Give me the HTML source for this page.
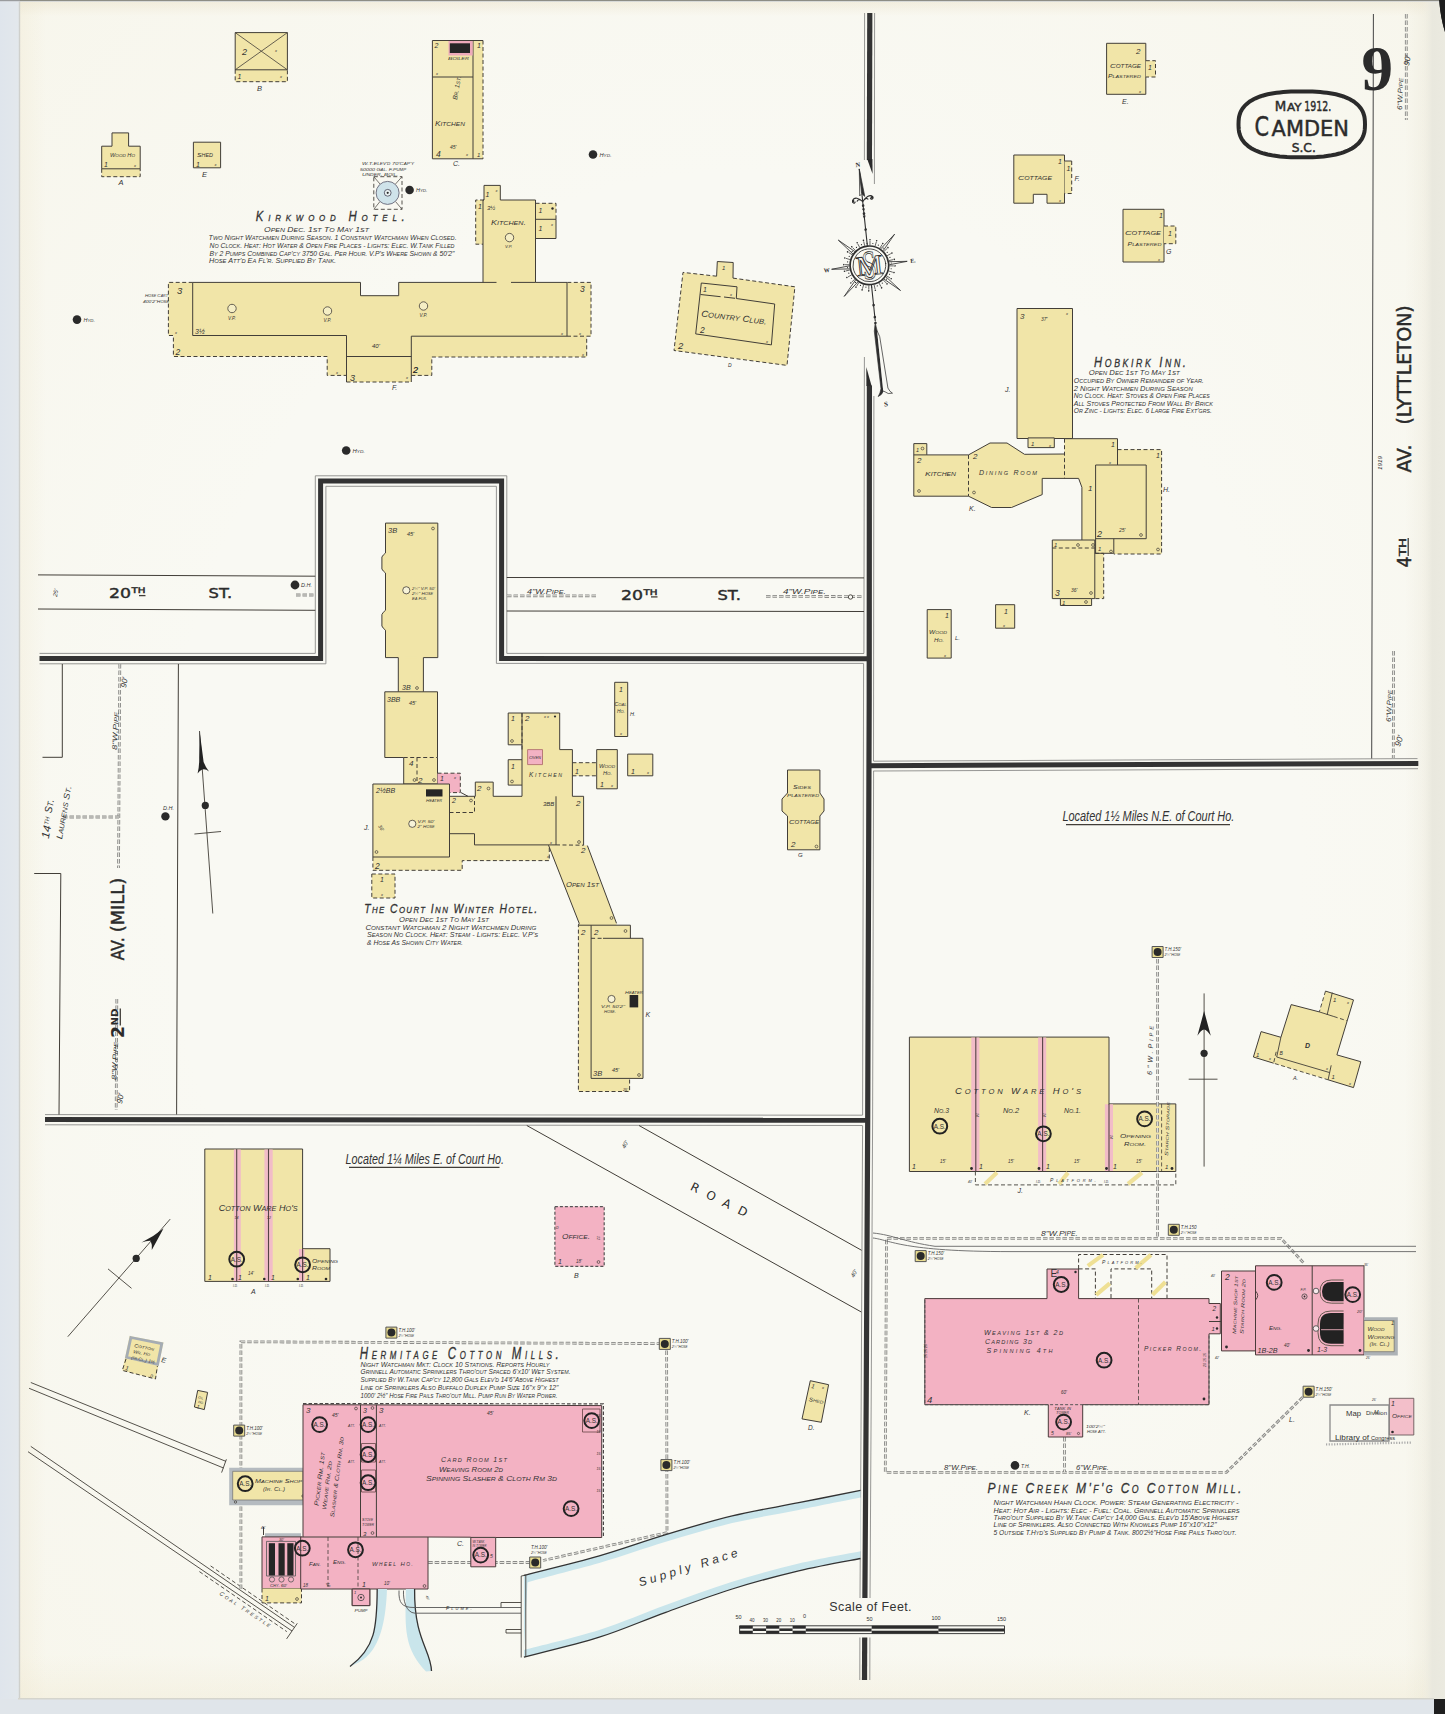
<!DOCTYPE html>
<html lang="en"><head><meta charset="utf-8"><title>Sanborn Fire Insurance Map - Camden, S.C. - May 1912 - Sheet 9</title>
<style>
html,body{margin:0;padding:0;background:#dde3e8;}
body{width:1445px;height:1714px;overflow:hidden;}
svg{display:block;}
text{font-family:"Liberation Sans",sans-serif;fill:#333;}
.h{font-style:italic;}
.p{font-style:normal;}
.w{font-family:"DejaVu Sans","Liberation Sans",sans-serif;fill:#2b2b2b;}
.wk{font-family:"DejaVu Sans","Liberation Sans",sans-serif;fill:#2b2b2b;stroke:#2b2b2b;stroke-width:0.45px;}
.wb{font-family:"DejaVu Sans","Liberation Sans",sans-serif;font-weight:bold;fill:#2b2b2b;}
.sb{font-family:"Liberation Serif",serif;font-weight:bold;fill:#2b2b2b;}
.sr{font-family:"Liberation Serif",serif;fill:none;stroke:#2e2e2e;stroke-width:0.8;}
.srb{font-family:"Liberation Serif",serif;font-weight:bold;fill:#2e2e2e;}
.n{font-family:"Liberation Sans Narrow","Liberation Sans",sans-serif;font-style:italic;}
</style></head><body>
<svg width="1445" height="1714" viewBox="0 0 1445 1714">
<rect x="0" y="0" width="1445" height="1714" fill="#dde3e8"/>
<defs><linearGradient id="lg" x1="0" x2="1" y1="0" y2="0"><stop offset="0" stop-color="#dfe5ec"/><stop offset="1" stop-color="#e3e8ec"/></linearGradient><linearGradient id="rg" x1="0" x2="1" y1="0" y2="0"><stop offset="0" stop-color="#f1f0e6" stop-opacity="0"/><stop offset="0.45" stop-color="#e9e8de"/><stop offset="1" stop-color="#ebeae0"/></linearGradient></defs>
<rect x="18" y="1.5" width="1427" height="1697.5" fill="#f9f9f3"/>
<defs><linearGradient id="tl" x1="0" x2="1" y1="0" y2="0"><stop offset="0" stop-color="#efe6cc" stop-opacity="0.3"/><stop offset="1" stop-color="#efe6cc" stop-opacity="0"/></linearGradient><linearGradient id="tt" x1="0" x2="0" y1="0" y2="1"><stop offset="0" stop-color="#ebe3cc" stop-opacity="0.5"/><stop offset="1" stop-color="#ebe3cc" stop-opacity="0"/></linearGradient><linearGradient id="tb" x1="0" x2="0" y1="1" y2="0"><stop offset="0" stop-color="#efe8d0" stop-opacity="0.35"/><stop offset="1" stop-color="#efe8d0" stop-opacity="0"/></linearGradient><linearGradient id="tr" x1="1" x2="0" y1="0" y2="0"><stop offset="0" stop-color="#e6e2d2" stop-opacity="0.6"/><stop offset="1" stop-color="#e6e2d2" stop-opacity="0"/></linearGradient></defs>
<rect x="20" y="2" width="26" height="1697" fill="url(#tl)"/>
<rect x="20" y="2" width="1425" height="14" fill="url(#tt)"/>
<rect x="20" y="1655" width="1425" height="44" fill="url(#tb)"/>
<rect x="1405" y="2" width="40" height="1697" fill="url(#tr)"/>
<defs><radialGradient id="vg" cx="0.5" cy="0.5" r="0.72"><stop offset="0.55" stop-color="#eee6c8" stop-opacity="0"/><stop offset="1" stop-color="#eee6c8" stop-opacity="0.16"/></radialGradient></defs>
<rect x="20" y="1.5" width="1425" height="1697.5" fill="url(#vg)"/>
<rect x="0" y="0" width="19.6" height="1714" fill="url(#lg)"/>
<rect x="18.8" y="1.5" width="1.4" height="1698" fill="#cfd0cc"/>
<rect x="1422" y="2" width="23" height="1697" fill="url(#rg)"/>
<rect x="0" y="1699" width="1445" height="15" fill="#e0e5ea"/>
<rect x="18" y="1698" width="1416" height="1.5" fill="#d5d5cd"/>
<rect x="0" y="0" width="20" height="1.2" fill="#9a9c9e"/>
<rect x="20" y="0" width="1425" height="1.2" fill="#8d8d85"/>
<path d="M1439.2,0 Q1440.5,18 1445,32 L1445,0 Z" fill="#1c1c1c"/>
<path d="M1439.2,0 Q1440.5,18 1445,32 L1445,0 Z" fill="#1c1c1c"/>
<rect x="1434" y="1699" width="11" height="15" fill="#1f1f1f"/>
<polyline points="869.8,13.0 869.4,160.0" fill="none" stroke="#333333" stroke-width="5.2" />
<polyline points="869.4,385.5 869.2,700.0 867.7,1120.0 866.2,1400.0 864.9,1598.0" fill="none" stroke="#333333" stroke-width="5.2" />
<polyline points="864.7,1637.5 864.5,1680.0" fill="none" stroke="#333333" stroke-width="5.2" />
<polyline points="868.5,765.7 1418.3,763.4" fill="none" stroke="#333333" stroke-width="5" />
<polyline points="39.5,658.5 320.6,658.5 320.6,481.1 501.6,481.1 501.6,658.6 868.8,658.7" fill="none" stroke="#333333" stroke-width="5" />
<polyline points="45.0,1119.6 867.7,1120.3" fill="none" stroke="#333333" stroke-width="5" />
<polyline points="864.6,13.0 864.4,160.0" fill="none" stroke="#8a8a88" stroke-width="0.9" />
<polyline points="864.4,357.0 863.9,653.4" fill="none" stroke="#8a8a88" stroke-width="0.9" />
<polyline points="873.9,396.0 873.5,761.0" fill="none" stroke="#8a8a88" stroke-width="0.9" />
<polyline points="873.6,771.0 872.6,1120.0 871.2,1400.0 870.0,1598.0" fill="none" stroke="#8a8a88" stroke-width="0.9" />
<polyline points="869.9,1637.5 869.8,1680.0" fill="none" stroke="#8a8a88" stroke-width="0.9" />
<polyline points="863.6,663.5 862.6,1115.0" fill="none" stroke="#8a8a88" stroke-width="0.9" />
<polyline points="862.6,1125.5 861.2,1400.0 860.0,1598.0" fill="none" stroke="#8a8a88" stroke-width="0.9" />
<polyline points="859.9,1637.5 859.8,1680.0" fill="none" stroke="#8a8a88" stroke-width="0.9" />
<polyline points="873.5,761.2 1417.5,758.6" fill="none" stroke="#8a8a88" stroke-width="0.9" />
<polyline points="873.3,771.0 1418.0,768.7" fill="none" stroke="#8a8a88" stroke-width="0.9" />
<polyline points="39.5,663.8 325.9,663.8 325.9,486.3 496.4,486.3 496.4,663.4 863.6,663.4" fill="none" stroke="#8a8a88" stroke-width="0.9" />
<polyline points="39.5,653.4 315.3,653.4 315.3,475.8 506.8,475.8 506.8,653.4 864.0,653.5" fill="none" stroke="#8a8a88" stroke-width="0.9" />
<polyline points="45.0,1114.6 862.6,1115.2" fill="none" stroke="#8a8a88" stroke-width="0.9" />
<polyline points="45.0,1124.8 862.4,1125.5" fill="none" stroke="#8a8a88" stroke-width="0.9" />
<polyline points="1373.4,14.0 1371.7,758.5" fill="none" stroke="#444" stroke-width="1" />
<line x1="38.0" y1="574.9" x2="315.3" y2="576.2" stroke="#423e38" stroke-width="1"/>
<line x1="38.0" y1="609.0" x2="315.3" y2="610.3" stroke="#423e38" stroke-width="1"/>
<line x1="506.8" y1="577.5" x2="864.0" y2="577.9" stroke="#423e38" stroke-width="1"/>
<line x1="506.8" y1="611.0" x2="864.0" y2="611.5" stroke="#423e38" stroke-width="1"/>
<text x="109.0" y="598.2" font-size="14.8" class="wk" textLength="22.0" lengthAdjust="spacingAndGlyphs" >20</text>
<text x="131.5" y="593.2" font-size="7.6" class="wk" textLength="14.0" lengthAdjust="spacingAndGlyphs" >TH</text>
<line x1="139.0" y1="595.6" x2="145.5" y2="595.6" stroke="#423e38" stroke-width="1.3"/>
<text x="208.6" y="598.2" font-size="14.8" class="wk" textLength="23.5" lengthAdjust="spacingAndGlyphs" >ST.</text>
<text x="621.0" y="599.5" font-size="14.8" class="wk" textLength="22.0" lengthAdjust="spacingAndGlyphs" >20</text>
<text x="643.5" y="594.5" font-size="7.6" class="wk" textLength="14.0" lengthAdjust="spacingAndGlyphs" >TH</text>
<line x1="651.0" y1="596.9" x2="657.5" y2="596.9" stroke="#423e38" stroke-width="1.3"/>
<text x="717.4" y="599.5" font-size="14.8" class="wk" textLength="23.5" lengthAdjust="spacingAndGlyphs" >ST.</text>
<text x="57.0" y="597.0" font-size="6" class="h" transform="rotate(-80.0 57.0 597.0)" >25'</text>
<circle cx="295.0" cy="585.0" r="4.4" fill="#2a2a2a" stroke="none" stroke-width="0"/>
<text x="301.0" y="587.0" font-size="5.5" class="h" >D.H.</text>
<polyline points="296.0,595.0 315.0,595.0" fill="none" stroke="#8a8a88" stroke-width="2.8000000000000003" stroke-dasharray="4.5 2" />
<polyline points="296.0,595.0 315.0,595.0" fill="none" stroke="#e6e6df" stroke-width="1.0" stroke-dasharray="4.5 2" />
<polyline points="507.0,595.8 598.0,595.8" fill="none" stroke="#8a8a88" stroke-width="2.8000000000000003" stroke-dasharray="4.5 2" />
<polyline points="507.0,595.8 598.0,595.8" fill="none" stroke="#e6e6df" stroke-width="1.0" stroke-dasharray="4.5 2" />
<text x="527.0" y="594.0" font-size="7" class="h" textLength="39.0" lengthAdjust="spacingAndGlyphs" >4"W.P<tspan font-size="5.6">IPE</tspan>.</text>
<polyline points="766.0,596.3 863.0,596.6" fill="none" stroke="#8a8a88" stroke-width="2.8000000000000003" stroke-dasharray="4.5 2" />
<polyline points="766.0,596.3 863.0,596.6" fill="none" stroke="#e6e6df" stroke-width="1.0" stroke-dasharray="4.5 2" />
<text x="783.0" y="594.4" font-size="7" class="h" textLength="43.0" lengthAdjust="spacingAndGlyphs" >4"W.P<tspan font-size="5.6">IPE</tspan>.</text>
<circle cx="850.5" cy="597.0" r="2.2" fill="#f9f9f3" stroke="#423e38" stroke-width="0.9"/>
<polyline points="42.5,757.3 62.3,757.3 62.3,664.0" fill="none" stroke="#423e38" stroke-width="1" />
<polyline points="34.2,873.5 60.8,873.5 59.0,1114.5" fill="none" stroke="#423e38" stroke-width="1" />
<line x1="178.4" y1="664.0" x2="176.6" y2="1114.5" stroke="#423e38" stroke-width="1"/>
<polyline points="119.8,664.0 118.5,868.0" fill="none" stroke="#8a8a88" stroke-width="2.8000000000000003" stroke-dasharray="4.5 2" />
<polyline points="119.8,664.0 118.5,868.0" fill="none" stroke="#e6e6df" stroke-width="1.0" stroke-dasharray="4.5 2" />
<polyline points="63.0,817.0 119.0,817.0" fill="none" stroke="#8a8a88" stroke-width="2.8000000000000003" stroke-dasharray="4.5 2" />
<polyline points="63.0,817.0 119.0,817.0" fill="none" stroke="#e6e6df" stroke-width="1.0" stroke-dasharray="4.5 2" />
<polyline points="116.8,999.0 116.2,1110.0" fill="none" stroke="#8a8a88" stroke-width="2.8000000000000003" stroke-dasharray="4.5 2" />
<polyline points="116.8,999.0 116.2,1110.0" fill="none" stroke="#e6e6df" stroke-width="1.0" stroke-dasharray="4.5 2" />
<text x="126.0" y="688.0" font-size="8" class="h" transform="rotate(-80.0 126.0 688.0)" >90'</text>
<text x="117.0" y="750.0" font-size="7" class="h" transform="rotate(-88.0 117.0 750.0)" textLength="38.0" lengthAdjust="spacingAndGlyphs" >8"W.P<tspan font-size="5.6">IPE</tspan></text>
<text x="122.0" y="1104.0" font-size="8" class="h" transform="rotate(-80.0 122.0 1104.0)" >90'</text>
<text x="116.5" y="1080.0" font-size="7" class="h" transform="rotate(-88.0 116.5 1080.0)" textLength="38.0" lengthAdjust="spacingAndGlyphs" >8"W.P<tspan font-size="5.6">IPE</tspan></text>
<text x="48.8" y="839.0" font-size="11" class="h" transform="rotate(-80.0 48.8 839.0)" textLength="13.0" lengthAdjust="spacingAndGlyphs" >14</text>
<text x="48.3" y="825.0" font-size="6" class="h" transform="rotate(-80.0 48.3 825.0)" >TH</text>
<text x="51.5" y="813.5" font-size="10.5" class="h" transform="rotate(-80.0 51.5 813.5)" textLength="14.0" lengthAdjust="spacingAndGlyphs" >S<tspan font-size="8.4">T</tspan>.</text>
<text x="62.0" y="839.5" font-size="8.5" class="h" transform="rotate(-80.0 62.0 839.5)" textLength="54.0" lengthAdjust="spacingAndGlyphs" >L<tspan font-size="6.8">AURENS</tspan> S<tspan font-size="6.8">T</tspan>.</text>
<text x="123.8" y="960.3" font-size="18" class="wk" transform="rotate(-90.0 123.8 960.3)" textLength="23.0" lengthAdjust="spacingAndGlyphs" >AV.</text>
<text x="123.8" y="932.3" font-size="18" class="wk" transform="rotate(-90.0 123.8 932.3)" textLength="54.4" lengthAdjust="spacingAndGlyphs" >(MILL)</text>
<text x="123.8" y="1038.0" font-size="18" class="wb" transform="rotate(-90.0 123.8 1038.0)" textLength="12.0" lengthAdjust="spacingAndGlyphs" >2</text>
<text x="117.5" y="1025.5" font-size="8.5" class="wb" transform="rotate(-90.0 117.5 1025.5)" textLength="17.0" lengthAdjust="spacingAndGlyphs" >ND</text>
<line x1="120.3" y1="1008.5" x2="120.3" y2="1025.5" stroke="#423e38" stroke-width="1.3"/>
<circle cx="165.4" cy="816.4" r="4.2" fill="#2a2a2a" stroke="none" stroke-width="0"/>
<text x="163.0" y="810.0" font-size="5.5" class="h" >D.H.</text>
<line x1="199.5" y1="731.0" x2="212.8" y2="913.5" stroke="#423e38" stroke-width="0.9"/>
<circle cx="205.3" cy="805.4" r="3.6" fill="#2a2a2a" stroke="none" stroke-width="0"/>
<line x1="194.4" y1="834.0" x2="221.0" y2="831.5" stroke="#423e38" stroke-width="0.9"/>
<path d="M199.6,731 L203.6,762 Q206,768 209,771.5 Q205.4,768.5 202.2,769.6 Q199.7,770.5 197.6,773.4 Q199.4,766 199.2,758 Z" fill="#222"/>
<text x="1411.4" y="567.5" font-size="19" class="wk" transform="rotate(-90.0 1411.4 567.5)" textLength="11.0" lengthAdjust="spacingAndGlyphs" >4</text>
<text x="1405.5" y="556.0" font-size="9" class="wk" transform="rotate(-90.0 1405.5 556.0)" textLength="18.0" lengthAdjust="spacingAndGlyphs" >TH</text>
<line x1="1408.2" y1="538.0" x2="1408.2" y2="556.0" stroke="#423e38" stroke-width="1.3"/>
<text x="1411.4" y="472.5" font-size="19" class="wk" transform="rotate(-90.0 1411.4 472.5)" textLength="28.0" lengthAdjust="spacingAndGlyphs" >AV.</text>
<text x="1411.4" y="424.5" font-size="19" class="wk" transform="rotate(-90.0 1411.4 424.5)" textLength="119.0" lengthAdjust="spacingAndGlyphs" >(LYTTLETON)</text>
<text x="1382.0" y="470.0" font-size="5.5" class="h" transform="rotate(-90.0 1382.0 470.0)" textLength="14.0" lengthAdjust="spacingAndGlyphs" >1919</text>
<polyline points="1406.3,14.0 1406.3,120.0" fill="none" stroke="#8a8a88" stroke-width="2.8000000000000003" stroke-dasharray="4.5 2" />
<polyline points="1406.3,14.0 1406.3,120.0" fill="none" stroke="#e6e6df" stroke-width="1.0" stroke-dasharray="4.5 2" />
<text x="1402.0" y="110.0" font-size="7" class="h" transform="rotate(-88.0 1402.0 110.0)" textLength="32.0" lengthAdjust="spacingAndGlyphs" >6"W.P<tspan font-size="5.6">IPE</tspan></text>
<text x="1409.0" y="66.0" font-size="8" class="h" transform="rotate(-80.0 1409.0 66.0)" >90'</text>
<polyline points="1393.6,651.0 1393.3,758.0" fill="none" stroke="#8a8a88" stroke-width="2.8000000000000003" stroke-dasharray="4.5 2" />
<polyline points="1393.6,651.0 1393.3,758.0" fill="none" stroke="#e6e6df" stroke-width="1.0" stroke-dasharray="4.5 2" />
<text x="1391.0" y="722.0" font-size="7" class="h" transform="rotate(-88.0 1391.0 722.0)" textLength="32.0" lengthAdjust="spacingAndGlyphs" >6"W.P<tspan font-size="5.6">IPE</tspan></text>
<text x="1400.0" y="747.0" font-size="8.5" class="h" transform="rotate(-72.0 1400.0 747.0)" >90'</text>
<text x="1361.5" y="90.0" font-size="63" class="sb" >9</text>
<polygon points="1365.0,124.4 1364.9,127.7 1364.7,130.0 1364.4,132.1 1363.9,134.0 1363.3,135.8 1362.6,137.5 1361.7,139.1 1360.7,140.6 1359.5,142.1 1358.3,143.5 1356.8,144.8 1355.3,146.1 1353.7,147.3 1351.9,148.4 1349.9,149.5 1347.9,150.5 1345.7,151.4 1343.4,152.3 1341.0,153.1 1338.5,153.8 1335.8,154.5 1333.0,155.0 1330.0,155.6 1326.9,156.0 1323.7,156.4 1320.2,156.7 1316.5,157.0 1312.5,157.2 1308.0,157.3 1301.8,157.3 1295.5,157.3 1291.0,157.2 1287.0,157.0 1283.3,156.7 1279.8,156.4 1276.6,156.0 1273.5,155.6 1270.5,155.0 1267.7,154.5 1265.0,153.8 1262.5,153.1 1260.1,152.3 1257.8,151.4 1255.6,150.5 1253.6,149.5 1251.6,148.4 1249.8,147.3 1248.2,146.1 1246.7,144.8 1245.2,143.5 1244.0,142.1 1242.8,140.6 1241.8,139.1 1240.9,137.5 1240.2,135.8 1239.6,134.0 1239.1,132.1 1238.8,130.0 1238.6,127.7 1238.5,124.4 1238.6,121.1 1238.8,118.8 1239.1,116.7 1239.6,114.8 1240.2,113.0 1240.9,111.3 1241.8,109.7 1242.8,108.2 1244.0,106.7 1245.2,105.3 1246.7,104.0 1248.2,102.7 1249.8,101.5 1251.6,100.4 1253.6,99.3 1255.6,98.3 1257.8,97.4 1260.1,96.5 1262.5,95.7 1265.0,95.0 1267.7,94.3 1270.5,93.8 1273.5,93.2 1276.6,92.8 1279.8,92.4 1283.3,92.1 1287.0,91.8 1291.0,91.6 1295.5,91.5 1301.7,91.5 1308.0,91.5 1312.5,91.6 1316.5,91.8 1320.2,92.1 1323.7,92.4 1326.9,92.8 1330.0,93.2 1333.0,93.8 1335.8,94.3 1338.5,95.0 1341.0,95.7 1343.4,96.5 1345.7,97.4 1347.9,98.3 1349.9,99.3 1351.9,100.4 1353.7,101.5 1355.3,102.7 1356.8,104.0 1358.3,105.3 1359.5,106.7 1360.7,108.2 1361.7,109.7 1362.6,111.3 1363.3,113.0 1363.9,114.8 1364.4,116.7 1364.7,118.8 1364.9,121.1" fill="none" stroke="#2b2b2b" stroke-width="4" />
<text x="1274.7" y="110.9" font-size="14.4" class="wk" textLength="11.5" lengthAdjust="spacingAndGlyphs" >M</text>
<text x="1287.0" y="110.9" font-size="10.5" class="wk" textLength="14.5" lengthAdjust="spacingAndGlyphs" >AY</text>
<text x="1304.3" y="110.9" font-size="14.4" class="wk" textLength="27.0" lengthAdjust="spacingAndGlyphs" >1912.</text>
<text x="1254.6" y="135.7" font-size="26" class="wk" textLength="14.5" lengthAdjust="spacingAndGlyphs" >C</text>
<text x="1271.6" y="135.7" font-size="21.3" class="wk" textLength="77.3" lengthAdjust="spacingAndGlyphs" >AMDEN</text>
<text x="1291.7" y="151.7" font-size="13" class="wk" textLength="24.1" lengthAdjust="spacingAndGlyphs" >S.C.</text>
<polygon points="235.2,32.6 287.4,32.6 287.4,81.7 235.2,81.7" fill="#f1e5a8" stroke="none" stroke-width="1" />
<polyline points="235.2,69.8 235.2,32.6 287.4,32.6 287.4,69.8 235.2,69.8" fill="none" stroke="#423e38" stroke-width="1" />
<polyline points="235.2,69.8 235.2,81.7 287.4,81.7 287.4,69.8" fill="none" stroke="#423e38" stroke-width="1" stroke-dasharray="4 2.5" />
<line x1="235.2" y1="32.6" x2="287.4" y2="69.8" stroke="#423e38" stroke-width="0.8"/>
<line x1="287.4" y1="32.6" x2="235.2" y2="69.8" stroke="#423e38" stroke-width="0.8"/>
<text x="242.0" y="55.0" font-size="9" class="h" >2</text>
<text x="275.0" y="52.0" font-size="4" class="h" >x</text>
<text x="237.5" y="78.5" font-size="7" class="h" >1</text>
<text x="280.0" y="78.0" font-size="4" class="h" >x</text>
<text x="257.0" y="91.0" font-size="7.5" class="h" >B</text>
<polygon points="101.7,146.2 112.0,146.2 112.0,132.9 128.6,132.9 128.6,146.2 140.2,146.2 140.2,176.7 101.7,176.7" fill="#f1e5a8" stroke="none" stroke-width="1" />
<polyline points="101.7,168.8 101.7,146.2 112.0,146.2 112.0,132.9 128.6,132.9 128.6,146.2 140.2,146.2 140.2,168.8 101.7,168.8" fill="none" stroke="#423e38" stroke-width="1" />
<polyline points="101.7,168.8 101.7,176.7 140.2,176.7 140.2,168.8" fill="none" stroke="#423e38" stroke-width="1" stroke-dasharray="4 2.5" />
<text x="110.0" y="156.5" font-size="5.5" class="h" textLength="25.0" lengthAdjust="spacingAndGlyphs" >W<tspan font-size="4.4">OOD</tspan> H<tspan font-size="4.4">O</tspan></text>
<text x="104.0" y="167.0" font-size="7" class="h" >1</text>
<text x="134.0" y="166.5" font-size="4" class="h" >x</text>
<text x="118.5" y="184.5" font-size="7.5" class="h" >A</text>
<polygon points="193.4,142.2 220.6,142.2 220.6,167.8 193.4,167.8" fill="#f1e5a8" stroke="#423e38" stroke-width="1" />
<text x="197.0" y="156.5" font-size="6" class="h" textLength="16.0" lengthAdjust="spacingAndGlyphs" >S<tspan font-size="4.8">HED</tspan></text>
<text x="196.0" y="166.5" font-size="7" class="h" >1</text>
<text x="214.5" y="166.0" font-size="4" class="h" >x</text>
<text x="202.0" y="176.5" font-size="7.5" class="h" >E</text>
<polygon points="432.4,40.5 483.0,40.5 483.0,158.8 432.4,158.8" fill="#f1e5a8" stroke="none" stroke-width="1" />
<polyline points="483.0,40.5 432.4,40.5 432.4,158.8 483.0,158.8" fill="none" stroke="#423e38" stroke-width="1" />
<polyline points="483.0,40.5 483.0,158.8" fill="none" stroke="#423e38" stroke-width="1" stroke-dasharray="4 2.5" />
<line x1="473.0" y1="40.5" x2="473.0" y2="158.8" stroke="#423e38" stroke-width="1"/>
<line x1="432.4" y1="77.0" x2="473.0" y2="77.0" stroke="#423e38" stroke-width="1"/>
<polygon points="448.5,41.0 472.7,41.0 472.7,55.5 448.5,55.5" fill="#eeaabb" stroke="none" stroke-width="1" />
<polygon points="449.8,43.3 470.0,43.3 470.0,53.0 449.8,53.0" fill="#262626" stroke="none" stroke-width="1" />
<text x="448.0" y="60.0" font-size="4.2" class="h" textLength="21.0" lengthAdjust="spacingAndGlyphs" >B<tspan font-size="3.4">OILER</tspan></text>
<text x="434.5" y="48.0" font-size="7" class="h" >2</text>
<text x="477.0" y="48.0" font-size="7" class="h" >1</text>
<text x="436.0" y="74.5" font-size="4" class="h" >x</text>
<text x="457.0" y="100.0" font-size="6.5" class="h" transform="rotate(-80.0 457.0 100.0)" textLength="24.0" lengthAdjust="spacingAndGlyphs" >B<tspan font-size="5.2">R</tspan>. 1<tspan font-size="5.2">ST</tspan>.</text>
<text x="435.0" y="125.5" font-size="7" class="h" textLength="30.0" lengthAdjust="spacingAndGlyphs" >K<tspan font-size="5.6">ITCHEN</tspan></text>
<text x="436.0" y="157.0" font-size="8.5" class="h" >4</text>
<text x="450.0" y="149.0" font-size="5" class="h" >45'</text>
<text x="466.0" y="156.0" font-size="4" class="h" >x</text>
<text x="477.0" y="156.5" font-size="6" class="h" >1</text>
<text x="453.0" y="166.0" font-size="7" class="h" >C.</text>
<polyline points="373.8,176.7 402.0,176.7 402.0,209.3 373.8,209.3 373.8,176.7" fill="none" stroke="#423e38" stroke-width="0.9" stroke-dasharray="4 2.5" />
<line x1="373.8" y1="176.7" x2="380.0" y2="184.0" stroke="#423e38" stroke-width="0.7"/>
<line x1="402.0" y1="176.7" x2="395.5" y2="184.0" stroke="#423e38" stroke-width="0.7"/>
<line x1="373.8" y1="209.3" x2="380.0" y2="201.5" stroke="#423e38" stroke-width="0.7"/>
<line x1="402.0" y1="209.3" x2="395.5" y2="201.5" stroke="#423e38" stroke-width="0.7"/>
<circle cx="387.6" cy="192.9" r="11.5" fill="#cfe3ea" stroke="#667" stroke-width="0.9"/>
<circle cx="387.7" cy="192.8" r="3.4" fill="#e9f1f2" stroke="#445" stroke-width="0.8"/>
<circle cx="387.7" cy="192.8" r="1.1" fill="#2a2a2a" stroke="none" stroke-width="0"/>
<text x="362.0" y="165.0" font-size="4.4" class="h" textLength="52.0" lengthAdjust="spacingAndGlyphs" >W.T.E<tspan font-size="3.5">LEV</tspan>'<tspan font-size="3.5">D</tspan> 70'C<tspan font-size="3.5">AP</tspan>'<tspan font-size="3.5">Y</tspan></text>
<text x="360.0" y="170.5" font-size="4.4" class="h" textLength="46.0" lengthAdjust="spacingAndGlyphs" >50000 G<tspan font-size="3.5">AL</tspan>. F.P<tspan font-size="3.5">UMP</tspan></text>
<text x="362.0" y="176.0" font-size="4.2" class="h" textLength="36.0" lengthAdjust="spacingAndGlyphs" >U<tspan font-size="3.4">NDER</tspan>. B<tspan font-size="3.4">OIL</tspan>.</text>
<circle cx="409.6" cy="190.0" r="4.3" fill="#2a2a2a" stroke="none" stroke-width="0"/>
<text x="416.0" y="192.3" font-size="5.5" class="h" textLength="11.5" lengthAdjust="spacingAndGlyphs" >H<tspan font-size="4.4">YD</tspan>.</text>
<circle cx="77.0" cy="319.6" r="4.3" fill="#2a2a2a" stroke="none" stroke-width="0"/>
<text x="83.5" y="322.0" font-size="5.5" class="h" textLength="11.5" lengthAdjust="spacingAndGlyphs" >H<tspan font-size="4.4">YD</tspan>.</text>
<circle cx="346.2" cy="450.5" r="4.3" fill="#2a2a2a" stroke="none" stroke-width="0"/>
<text x="352.5" y="453.0" font-size="5.5" class="h" textLength="12.5" lengthAdjust="spacingAndGlyphs" >H<tspan font-size="4.4">YD</tspan>.</text>
<circle cx="593.0" cy="154.5" r="4.3" fill="#2a2a2a" stroke="none" stroke-width="0"/>
<text x="599.5" y="157.0" font-size="5.5" class="h" textLength="12.0" lengthAdjust="spacingAndGlyphs" >H<tspan font-size="4.4">YD</tspan>.</text>
<text x="0.0" y="0.0" font-size="14.2" class="h" transform="translate(255.8 220.6) scale(0.800 1)" textLength="186.2" lengthAdjust="spacing" stroke="#333" stroke-width="0.3">K<tspan font-size="9.9">IRKWOOD</tspan> H<tspan font-size="9.9">OTEL</tspan>.</text>
<text x="264.0" y="232.2" font-size="7.2" class="h" textLength="105.0" lengthAdjust="spacingAndGlyphs" >O<tspan font-size="5.8">PEN</tspan> D<tspan font-size="5.8">EC</tspan>. 1<tspan font-size="5.8">ST</tspan> T<tspan font-size="5.8">O</tspan> M<tspan font-size="5.8">AY</tspan> 1<tspan font-size="5.8">ST</tspan></text>
<text x="208.6" y="240.2" font-size="7.3" class="h" textLength="248.0" lengthAdjust="spacingAndGlyphs" >T<tspan font-size="5.8">WO</tspan> N<tspan font-size="5.8">IGHT</tspan> W<tspan font-size="5.8">ATCHMEN</tspan> D<tspan font-size="5.8">URING</tspan> S<tspan font-size="5.8">EASON</tspan>. 1 C<tspan font-size="5.8">ONSTANT</tspan> W<tspan font-size="5.8">ATCHMAN</tspan> W<tspan font-size="5.8">HEN</tspan> C<tspan font-size="5.8">LOSED</tspan>.</text>
<text x="209.5" y="247.9" font-size="7.3" class="h" textLength="245.0" lengthAdjust="spacingAndGlyphs" >N<tspan font-size="5.8">O</tspan> C<tspan font-size="5.8">LOCK</tspan>. H<tspan font-size="5.8">EAT</tspan>: H<tspan font-size="5.8">OT</tspan> W<tspan font-size="5.8">ATER</tspan> &amp; O<tspan font-size="5.8">PEN</tspan> F<tspan font-size="5.8">IRE</tspan> P<tspan font-size="5.8">LACES</tspan> - L<tspan font-size="5.8">IGHTS</tspan>: E<tspan font-size="5.8">LEC</tspan>. W.T<tspan font-size="5.8">ANK</tspan> F<tspan font-size="5.8">ILLED</tspan></text>
<text x="209.5" y="255.6" font-size="7.3" class="h" textLength="245.0" lengthAdjust="spacingAndGlyphs" >B<tspan font-size="5.8">Y</tspan> 2 P<tspan font-size="5.8">UMPS</tspan> C<tspan font-size="5.8">OMBINED</tspan> C<tspan font-size="5.8">AP</tspan>'<tspan font-size="5.8">CY</tspan> 3750 G<tspan font-size="5.8">AL</tspan>. P<tspan font-size="5.8">ER</tspan> H<tspan font-size="5.8">OUR</tspan>. V.P'<tspan font-size="5.8">S</tspan> W<tspan font-size="5.8">HERE</tspan> S<tspan font-size="5.8">HOWN</tspan> &amp; 50'2"</text>
<text x="209.0" y="263.0" font-size="7.3" class="h" textLength="127.0" lengthAdjust="spacingAndGlyphs" >H<tspan font-size="5.8">OSE</tspan> A<tspan font-size="5.8">TT</tspan>'<tspan font-size="5.8">D</tspan> E<tspan font-size="5.8">A</tspan> F<tspan font-size="5.8">L</tspan>'<tspan font-size="5.8">R</tspan>. S<tspan font-size="5.8">UPPLIED</tspan> B<tspan font-size="5.8">Y</tspan> T<tspan font-size="5.8">ANK</tspan>.</text>
<polygon points="168.4,282.4 360.5,282.4 360.5,295.7 398.7,295.7 398.7,282.4 483.0,282.4 483.0,244.2 475.7,244.2 475.7,200.0 484.0,200.0 484.0,185.4 500.3,185.4 500.3,200.0 535.5,200.0 535.5,203.3 556.0,203.3 556.0,238.5 535.5,238.5 535.5,282.4 591.0,282.4 591.0,336.2 586.7,336.2 586.7,357.0 431.8,357.0 431.8,375.4 411.0,375.4 411.0,382.0 346.5,382.0 346.5,375.4 327.2,375.4 327.2,356.5 173.4,356.5 173.4,335.5 168.4,335.5" fill="#f1e5a8" stroke="none" stroke-width="1" />
<polyline points="192.7,335.5 192.7,282.4 360.5,282.4 360.5,295.7 398.7,295.7 398.7,282.4 483.0,282.4 483.0,200.0 484.0,200.0 484.0,185.4 500.3,185.4 500.3,200.0 535.5,200.0 535.5,282.4 567.0,282.4 567.0,336.2 411.3,336.2 411.3,382.0" fill="none" stroke="#423e38" stroke-width="1" />
<polyline points="192.7,335.5 346.5,335.5 346.5,382.0" fill="none" stroke="#423e38" stroke-width="1" />
<line x1="346.5" y1="356.5" x2="411.3" y2="356.5" stroke="#423e38" stroke-width="1"/>
<line x1="483.0" y1="282.4" x2="496.5" y2="282.4" stroke="#423e38" stroke-width="1"/>
<line x1="511.0" y1="282.4" x2="535.5" y2="282.4" stroke="#423e38" stroke-width="1"/>
<polyline points="535.5,219.3 556.0,219.3 556.0,238.5 535.5,238.5" fill="none" stroke="#423e38" stroke-width="1" />
<polyline points="192.7,282.4 168.4,282.4 168.4,335.5 173.4,335.5 173.4,356.5 327.2,356.5 327.2,375.4 346.5,375.4" fill="none" stroke="#423e38" stroke-width="1" stroke-dasharray="4 2.5" />
<polyline points="346.5,382.0 411.3,382.0" fill="none" stroke="#423e38" stroke-width="1" stroke-dasharray="4 2.5" />
<polyline points="411.3,375.4 431.8,375.4 431.8,357.0 586.7,357.0 586.7,336.2" fill="none" stroke="#423e38" stroke-width="1" stroke-dasharray="4 2.5" />
<polyline points="567.0,336.2 591.0,336.2 591.0,282.4 567.0,282.4" fill="none" stroke="#423e38" stroke-width="1" stroke-dasharray="4 2.5" />
<polyline points="484.0,200.0 475.7,200.0 475.7,244.2 483.0,244.2" fill="none" stroke="#423e38" stroke-width="1" stroke-dasharray="4 2.5" />
<polyline points="535.5,203.3 556.0,203.3 556.0,219.3" fill="none" stroke="#423e38" stroke-width="1" stroke-dasharray="4 2.5" />
<circle cx="232.0" cy="308.5" r="4.2" fill="#f5eec4" stroke="#423e38" stroke-width="0.8"/>
<text x="228.0" y="319.5" font-size="4.6" class="h" >V.P.</text>
<circle cx="327.5" cy="311.0" r="4.2" fill="#f5eec4" stroke="#423e38" stroke-width="0.8"/>
<text x="323.5" y="322.0" font-size="4.6" class="h" >V.P.</text>
<circle cx="423.5" cy="306.0" r="4.2" fill="#f5eec4" stroke="#423e38" stroke-width="0.8"/>
<text x="419.5" y="317.0" font-size="4.6" class="h" >V.P.</text>
<circle cx="509.5" cy="237.6" r="4.2" fill="#f5eec4" stroke="#423e38" stroke-width="0.8"/>
<text x="505.0" y="248.0" font-size="4.2" class="h" >V.P.</text>
<text x="177.0" y="293.5" font-size="9.5" class="h" >3</text>
<text x="195.0" y="334.0" font-size="7" class="h" >3½</text>
<text x="175.5" y="354.5" font-size="8.5" class="h" >2</text>
<text x="175.0" y="334.0" font-size="4" class="h" >x</text>
<text x="372.0" y="348.0" font-size="6" class="h" >40'</text>
<text x="350.0" y="380.5" font-size="9" class="h" >3</text>
<text x="413.0" y="372.5" font-size="9" class="h" >2</text>
<text x="336.0" y="373.5" font-size="4" class="h" >x</text>
<text x="406.0" y="379.0" font-size="4" class="h" >x</text>
<text x="392.0" y="390.0" font-size="7" class="h" >F.</text>
<text x="145.0" y="296.5" font-size="4.2" class="h" textLength="23.0" lengthAdjust="spacingAndGlyphs" >H<tspan font-size="3.4">OSE</tspan> C<tspan font-size="3.4">ART</tspan></text>
<text x="143.0" y="303.0" font-size="4.2" class="h" textLength="26.0" lengthAdjust="spacingAndGlyphs" >400'2"H<tspan font-size="3.4">OSE</tspan></text>
<text x="580.0" y="292.0" font-size="8.5" class="h" >3</text>
<text x="561.0" y="334.5" font-size="4" class="h" >x</text>
<text x="579.0" y="334.5" font-size="4" class="h" >x</text>
<text x="582.0" y="355.5" font-size="4" class="h" >x</text>
<text x="413.0" y="372.5" font-size="9" class="h" >2</text>
<text x="491.0" y="225.0" font-size="7" class="h" textLength="35.0" lengthAdjust="spacingAndGlyphs" >K<tspan font-size="5.6">ITCHEN</tspan>.</text>
<text x="485.5" y="197.0" font-size="7" class="h" >1</text>
<text x="495.5" y="191.5" font-size="4" class="h" >x</text>
<text x="478.0" y="209.0" font-size="7" class="h" >1</text>
<text x="487.0" y="210.0" font-size="6" class="h" >3½</text>
<text x="538.5" y="212.5" font-size="7" class="h" >1</text>
<text x="538.5" y="231.0" font-size="7" class="h" >1</text>
<circle cx="552.5" cy="208.5" r="1.2" fill="#2a2a2a" stroke="none" stroke-width="0"/>
<text x="551.0" y="226.0" font-size="4" class="h" >x</text>
<polygon points="683.0,272.4 716.6,276.2 717.3,261.5 733.2,262.5 733.0,278.1 794.9,286.8 787.0,365.4 674.0,350.5" fill="#f1e5a8" stroke="none" stroke-width="1" />
<polyline points="716.6,276.2 683.0,272.4 674.0,350.5 787.0,365.4 794.9,286.8 733.0,278.1" fill="none" stroke="#423e38" stroke-width="1" stroke-dasharray="4 2.5" />
<polyline points="716.6,276.2 717.3,261.5 733.2,262.5 733.0,278.1" fill="none" stroke="#423e38" stroke-width="1" />
<polyline points="701.3,283.0 737.0,286.8 736.3,298.5 774.7,304.0 771.4,344.9 695.7,333.9 701.3,283.0" fill="none" stroke="#423e38" stroke-width="1" />
<polyline points="700.5,294.5 720.6,296.7" fill="none" stroke="#423e38" stroke-width="1" />
<polyline points="724.0,297.0 735.0,298.3" fill="none" stroke="#423e38" stroke-width="1" />
<text x="701.0" y="316.5" font-size="9" class="h" transform="rotate(7.0 701.0 316.5)" textLength="66.0" lengthAdjust="spacingAndGlyphs" >C<tspan font-size="7.2">OUNTRY</tspan> C<tspan font-size="7.2">LUB</tspan>.</text>
<text x="703.0" y="291.5" font-size="7" class="h" >1</text>
<text x="722.0" y="269.5" font-size="6" class="h" >1</text>
<text x="700.0" y="333.0" font-size="8.5" class="h" >2</text>
<text x="678.0" y="348.5" font-size="9.5" class="h" >2</text>
<text x="728.0" y="366.5" font-size="5" class="h" fill="#777" >D</text>
<text x="766.0" y="343.0" font-size="4" class="h" >x</text>
<text x="730.0" y="296.0" font-size="4" class="h" >x</text>
<polygon points="1106.6,43.3 1145.8,43.3 1145.8,94.3 1106.6,94.3" fill="#f1e5a8" stroke="#423e38" stroke-width="1" />
<polygon points="1145.8,60.7 1155.5,60.7 1155.5,77.0 1145.8,77.0" fill="#f1e5a8" stroke="none" stroke-width="1" />
<polyline points="1145.8,60.7 1155.5,60.7 1155.5,77.0 1145.8,77.0" fill="none" stroke="#423e38" stroke-width="1" stroke-dasharray="4 2.5" />
<text x="1110.0" y="68.0" font-size="5.8" class="h" textLength="31.0" lengthAdjust="spacingAndGlyphs" >C<tspan font-size="4.6">OTTAGE</tspan></text>
<text x="1108.0" y="78.0" font-size="5" class="h" textLength="33.0" lengthAdjust="spacingAndGlyphs" >P<tspan font-size="4.0">LASTERED</tspan></text>
<text x="1136.0" y="54.0" font-size="8" class="h" >2</text>
<text x="1148.0" y="70.0" font-size="7" class="h" >1</text>
<text x="1139.0" y="92.5" font-size="4" class="h" >x</text>
<text x="1122.0" y="103.5" font-size="7" class="h" >E.</text>
<polygon points="1013.8,155.0 1064.5,155.0 1064.5,203.2 1047.0,203.2 1047.0,194.3 1033.3,194.3 1033.3,203.2 1013.8,203.2" fill="#f1e5a8" stroke="#423e38" stroke-width="1" />
<polygon points="1064.5,161.0 1071.7,161.0 1071.7,193.5 1064.5,193.5" fill="#f1e5a8" stroke="none" stroke-width="1" />
<polyline points="1064.5,161.0 1071.7,161.0" fill="none" stroke="#423e38" stroke-width="1" />
<polyline points="1071.7,161.0 1071.7,193.5 1064.5,193.5" fill="none" stroke="#423e38" stroke-width="1" stroke-dasharray="4 2.5" />
<text x="1018.0" y="179.5" font-size="6" class="h" textLength="34.0" lengthAdjust="spacingAndGlyphs" >C<tspan font-size="4.8">OTTAGE</tspan></text>
<text x="1058.0" y="164.0" font-size="7" class="h" >1</text>
<text x="1066.5" y="171.0" font-size="7" class="h" >1</text>
<text x="1059.0" y="201.5" font-size="4" class="h" >x</text>
<text x="1074.5" y="180.5" font-size="7" class="h" >F.</text>
<polygon points="1123.0,209.3 1164.0,209.3 1164.0,262.0 1123.0,262.0" fill="#f1e5a8" stroke="#423e38" stroke-width="1" />
<polygon points="1164.0,226.0 1175.8,226.0 1175.8,243.7 1164.0,243.7" fill="#f1e5a8" stroke="none" stroke-width="1" />
<polyline points="1164.0,226.0 1175.8,226.0 1175.8,243.7 1164.0,243.7" fill="none" stroke="#423e38" stroke-width="1" stroke-dasharray="4 2.5" />
<text x="1125.0" y="235.0" font-size="6" class="h" textLength="36.0" lengthAdjust="spacingAndGlyphs" >C<tspan font-size="4.8">OTTAGE</tspan></text>
<text x="1127.5" y="245.5" font-size="5" class="h" textLength="34.0" lengthAdjust="spacingAndGlyphs" >P<tspan font-size="4.0">LASTERED</tspan></text>
<text x="1159.0" y="217.5" font-size="7" class="h" >1</text>
<text x="1168.0" y="236.0" font-size="7" class="h" >1</text>
<text x="1158.0" y="260.5" font-size="4" class="h" >x</text>
<text x="1166.0" y="253.5" font-size="7" class="h" >G</text>
<polygon points="1017.0,308.5 1072.5,308.5 1072.5,438.5 1017.0,438.5" fill="#f1e5a8" stroke="#423e38" stroke-width="1" />
<text x="1020.0" y="318.5" font-size="8" class="h" >3</text>
<text x="1041.0" y="321.0" font-size="5" class="h" >37'</text>
<text x="1066.0" y="315.0" font-size="4" class="h" >x</text>
<text x="1005.0" y="392.0" font-size="7" class="h" >J.</text>
<polygon points="1028.0,437.9 1054.3,437.9 1054.3,447.6 1028.0,447.6" fill="#f1e5a8" stroke="#423e38" stroke-width="1" />
<text x="1031.0" y="446.0" font-size="6" class="h" >1</text>
<text x="1049.0" y="446.5" font-size="4" class="h" >x</text>
<text x="0.0" y="0.0" font-size="14" class="h" transform="translate(1094.0 366.8) scale(0.800 1)" textLength="115.0" lengthAdjust="spacing" stroke="#333" stroke-width="0.3">H<tspan font-size="10.9">OBKIRK</tspan> I<tspan font-size="10.9">NN</tspan>.</text>
<text x="1088.7" y="374.7" font-size="6.8" class="h" textLength="91.0" lengthAdjust="spacingAndGlyphs" >O<tspan font-size="5.4">PEN</tspan> D<tspan font-size="5.4">EC</tspan> 1<tspan font-size="5.4">ST</tspan> T<tspan font-size="5.4">O</tspan> M<tspan font-size="5.4">AY</tspan> 1<tspan font-size="5.4">ST</tspan></text>
<text x="1073.8" y="383.2" font-size="7.3" class="h" textLength="130.0" lengthAdjust="spacingAndGlyphs" >O<tspan font-size="5.8">CCUPIED</tspan> B<tspan font-size="5.8">Y</tspan> O<tspan font-size="5.8">WNER</tspan> R<tspan font-size="5.8">EMAINDER</tspan> <tspan font-size="5.8">OF</tspan> Y<tspan font-size="5.8">EAR</tspan>.</text>
<text x="1073.8" y="390.7" font-size="7.3" class="h" textLength="119.0" lengthAdjust="spacingAndGlyphs" >2 N<tspan font-size="5.8">IGHT</tspan> W<tspan font-size="5.8">ATCHMEN</tspan> D<tspan font-size="5.8">URING</tspan> S<tspan font-size="5.8">EASON</tspan></text>
<text x="1073.8" y="398.2" font-size="7.3" class="h" textLength="136.0" lengthAdjust="spacingAndGlyphs" >N<tspan font-size="5.8">O</tspan> C<tspan font-size="5.8">LOCK</tspan>. H<tspan font-size="5.8">EAT</tspan>: S<tspan font-size="5.8">TOVES</tspan> &amp; O<tspan font-size="5.8">PEN</tspan> F<tspan font-size="5.8">IRE</tspan> P<tspan font-size="5.8">LACES</tspan></text>
<text x="1073.8" y="405.7" font-size="7.3" class="h" textLength="139.0" lengthAdjust="spacingAndGlyphs" >A<tspan font-size="5.8">LL</tspan> S<tspan font-size="5.8">TOVES</tspan> P<tspan font-size="5.8">ROTECTED</tspan> F<tspan font-size="5.8">ROM</tspan> W<tspan font-size="5.8">ALL</tspan> B<tspan font-size="5.8">Y</tspan> B<tspan font-size="5.8">RICK</tspan></text>
<text x="1073.8" y="413.2" font-size="7.3" class="h" textLength="138.0" lengthAdjust="spacingAndGlyphs" >O<tspan font-size="5.8">R</tspan> Z<tspan font-size="5.8">INC</tspan> - L<tspan font-size="5.8">IGHTS</tspan>: E<tspan font-size="5.8">LEC</tspan>. 6 L<tspan font-size="5.8">ARGE</tspan> F<tspan font-size="5.8">IRE</tspan> E<tspan font-size="5.8">XT</tspan>'<tspan font-size="5.8">GRS</tspan>.</text>
<polygon points="913.8,443.6 926.8,443.6 926.8,454.9 968.5,454.9 990.0,443.0 1007.0,443.0 1024.5,454.3 1064.5,454.0 1064.5,438.7 1117.5,438.7 1117.5,449.6 1161.6,449.6 1161.6,554.0 1113.8,554.0 1113.8,553.3 1103.7,553.3 1103.7,598.6 1091.6,598.6 1091.6,605.5 1060.4,605.5 1060.4,598.6 1052.3,598.6 1052.3,540.0 1081.9,540.0 1081.9,487.3 1078.6,478.4 1042.2,478.4 1042.2,494.6 1011.5,507.5 991.6,507.5 968.5,496.2 913.8,496.2" fill="#f1e5a8" stroke="none" stroke-width="1" />
<polyline points="1064.5,454.0 1024.5,454.3 1007.0,443.0 990.0,443.0 968.5,454.9 926.8,454.9 926.8,443.6 913.8,443.6 913.8,496.2 968.5,496.2 991.6,507.5 1011.5,507.5 1042.2,494.6 1042.2,478.4 1078.6,478.4 1081.9,487.3 1081.9,540.0" fill="none" stroke="#423e38" stroke-width="1" />
<line x1="913.8" y1="454.9" x2="926.8" y2="454.9" stroke="#423e38" stroke-width="1"/>
<polyline points="968.5,454.9 968.5,496.2" fill="none" stroke="#423e38" stroke-width="1" stroke-dasharray="4 2.5" />
<polyline points="1064.5,438.7 1064.5,478.4" fill="none" stroke="#423e38" stroke-width="1" stroke-dasharray="4 2.5" />
<polyline points="1064.5,438.7 1117.5,438.7 1117.5,465.0" fill="none" stroke="#423e38" stroke-width="1" />
<polyline points="1095.6,553.3 1095.6,465.0 1146.2,465.0 1146.2,538.7 1095.6,538.7" fill="none" stroke="#423e38" stroke-width="1" />
<polyline points="1117.5,449.6 1161.6,449.6 1161.6,554.0 1113.8,554.0" fill="none" stroke="#423e38" stroke-width="1" stroke-dasharray="4 2.5" />
<polyline points="1095.6,553.3 1113.8,553.3 1113.8,538.7" fill="none" stroke="#423e38" stroke-width="1" />
<polyline points="1052.3,540.0 1094.8,540.0 1094.8,598.6 1091.6,598.6 1091.6,605.5 1060.4,605.5 1060.4,598.6 1052.3,598.6 1052.3,540.0" fill="none" stroke="#423e38" stroke-width="1" />
<polyline points="1052.3,548.0 1094.8,548.0" fill="none" stroke="#423e38" stroke-width="1" stroke-dasharray="4 2.5" />
<line x1="1060.4" y1="598.6" x2="1091.6" y2="598.6" stroke="#423e38" stroke-width="1"/>
<polyline points="1094.8,553.3 1103.7,553.3 1103.7,598.6 1094.8,598.6" fill="none" stroke="#423e38" stroke-width="1" stroke-dasharray="4 2.5" />
<text x="925.0" y="476.0" font-size="6" class="h" textLength="31.0" lengthAdjust="spacingAndGlyphs" >K<tspan font-size="4.8">ITCHEN</tspan></text>
<text x="979.0" y="475.0" font-size="7" class="h" textLength="58.0" lengthAdjust="spacing">D<tspan font-size="5.6">INING</tspan> R<tspan font-size="5.6">OOM</tspan></text>
<text x="917.0" y="463.0" font-size="8" class="h" >2</text>
<text x="973.0" y="459.0" font-size="8" class="h" >2</text>
<text x="916.0" y="452.0" font-size="5.5" class="h" >1</text>
<circle cx="922.5" cy="448.5" r="1.4" fill="none" stroke="#423e38" stroke-width="0.7"/>
<circle cx="919.0" cy="491.0" r="1.4" fill="none" stroke="#423e38" stroke-width="0.7"/>
<circle cx="974.0" cy="492.5" r="1.4" fill="none" stroke="#423e38" stroke-width="0.7"/>
<text x="969.0" y="511.0" font-size="7" class="h" >K.</text>
<text x="1111.0" y="447.0" font-size="7" class="h" >1</text>
<text x="1156.0" y="458.0" font-size="7" class="h" >1</text>
<text x="1088.0" y="491.0" font-size="8" class="h" >1</text>
<text x="1097.0" y="537.0" font-size="9" class="h" >2</text>
<text x="1119.0" y="532.0" font-size="5" class="h" >25'</text>
<text x="1163.0" y="492.0" font-size="7" class="h" >H.</text>
<circle cx="1141.0" cy="535.0" r="1.4" fill="none" stroke="#423e38" stroke-width="0.7"/>
<circle cx="1158.0" cy="549.5" r="1.4" fill="none" stroke="#423e38" stroke-width="0.7"/>
<circle cx="1111.0" cy="551.5" r="1.4" fill="none" stroke="#423e38" stroke-width="0.7"/>
<circle cx="1093.0" cy="545.0" r="1.4" fill="none" stroke="#423e38" stroke-width="0.7"/>
<circle cx="1078.0" cy="545.0" r="1.4" fill="none" stroke="#423e38" stroke-width="0.7"/>
<text x="1054.0" y="547.0" font-size="6" class="h" >1</text>
<text x="1098.0" y="551.0" font-size="6" class="h" >1</text>
<text x="1055.0" y="596.0" font-size="8.5" class="h" >3</text>
<text x="1071.0" y="592.0" font-size="5" class="h" >36'</text>
<circle cx="1091.0" cy="593.0" r="1.4" fill="none" stroke="#423e38" stroke-width="0.7"/>
<text x="1062.0" y="604.5" font-size="6" class="h" >1</text>
<circle cx="1086.0" cy="602.0" r="1.4" fill="none" stroke="#423e38" stroke-width="0.7"/>
<text x="1109.0" y="463.5" font-size="4" class="h" >x</text>
<polygon points="927.2,609.6 951.2,609.6 951.2,658.1 927.2,658.1" fill="#f1e5a8" stroke="#423e38" stroke-width="1" />
<text x="929.0" y="634.0" font-size="5.5" class="h" textLength="18.0" lengthAdjust="spacingAndGlyphs" >W<tspan font-size="4.4">OOD</tspan></text>
<text x="934.0" y="641.5" font-size="5.5" class="h" textLength="10.0" lengthAdjust="spacingAndGlyphs" >H<tspan font-size="4.4">O</tspan>.</text>
<text x="945.0" y="618.0" font-size="7" class="h" >1</text>
<text x="944.0" y="656.5" font-size="4" class="h" >x</text>
<text x="955.0" y="640.0" font-size="6" class="h" fill="#777" >L.</text>
<polygon points="995.6,604.7 1014.7,604.7 1014.7,628.2 995.6,628.2" fill="#f1e5a8" stroke="#423e38" stroke-width="1" />
<text x="1004.0" y="613.5" font-size="7" class="h" >1</text>
<text x="1003.0" y="627.0" font-size="4" class="h" >x</text>
<text x="1062.4" y="821.3" font-size="14" class="n" textLength="172.0" lengthAdjust="spacingAndGlyphs" >Located 1½ Miles N.E. of Court Ho.</text>
<line x1="1066.0" y1="824.6" x2="1230.0" y2="824.6" stroke="#423e38" stroke-width="1.2"/>
<polygon points="385.5,523.1 437.8,523.1 437.8,657.6 423.4,657.6 423.4,691.8 437.5,691.8 437.5,757.5 437.5,784.0 403.7,784.0 403.7,757.5 384.8,757.5 384.8,691.8 398.3,691.8 398.3,657.6 385.5,657.6 385.5,630.2 383.3,628.2 381.9,626.0 381.9,614.5 383.3,612.3 385.5,610.3 385.5,573.0 383.3,571.0 381.9,569.0 381.9,557.0 383.3,555.0 385.5,553.0" fill="#f1e5a8" stroke="#423e38" stroke-width="1" />
<line x1="405.0" y1="657.6" x2="417.0" y2="657.6" stroke="#f1e5a8" stroke-width="1.6"/>
<polyline points="417.0,757.5 417.0,784.0" fill="none" stroke="#423e38" stroke-width="1" stroke-dasharray="4 2.5" />
<polyline points="403.7,757.5 437.5,757.5" fill="none" stroke="#423e38" stroke-width="1" stroke-dasharray="4 2.5" />
<line x1="423.4" y1="691.8" x2="398.3" y2="691.8" stroke="#423e38" stroke-width="1"/>
<text x="388.0" y="533.0" font-size="7.5" class="h" >3B</text>
<text x="407.0" y="536.0" font-size="5.5" class="h" >45'</text>
<circle cx="433.0" cy="528.5" r="1.4" fill="none" stroke="#423e38" stroke-width="0.7"/>
<circle cx="406.3" cy="590.3" r="3.6" fill="#f7f3d8" stroke="#423e38" stroke-width="0.8"/>
<text x="412.0" y="589.5" font-size="4.2" class="h" textLength="23.0" lengthAdjust="spacingAndGlyphs" >2½" V.P. 50'</text>
<text x="412.0" y="594.5" font-size="4.2" class="h" textLength="21.0" lengthAdjust="spacingAndGlyphs" >2½" H<tspan font-size="3.4">OSE</tspan></text>
<text x="412.0" y="599.5" font-size="4.2" class="h" textLength="15.0" lengthAdjust="spacingAndGlyphs" >E<tspan font-size="3.4">A</tspan> F<tspan font-size="3.4">LR</tspan>.</text>
<text x="402.0" y="689.5" font-size="7" class="h" >3B</text>
<circle cx="417.0" cy="688.0" r="1.4" fill="none" stroke="#423e38" stroke-width="0.7"/>
<text x="387.0" y="701.5" font-size="7" class="h" >3BB</text>
<text x="409.0" y="705.0" font-size="5.5" class="h" >45'</text>
<text x="409.0" y="766.0" font-size="8" class="h" >4</text>
<circle cx="414.5" cy="780.0" r="1.4" fill="none" stroke="#423e38" stroke-width="0.7"/>
<text x="418.0" y="782.5" font-size="8" class="h" >2</text>
<circle cx="434.0" cy="780.0" r="1.4" fill="none" stroke="#423e38" stroke-width="0.7"/>
<polygon points="437.5,773.2 460.3,773.2 460.3,792.6 437.5,792.6" fill="#f3b2c3" stroke="none" stroke-width="1" />
<polyline points="437.5,773.2 460.3,773.2 460.3,792.6 449.5,792.6" fill="none" stroke="#423e38" stroke-width="1" stroke-dasharray="4 2.5" />
<text x="440.0" y="781.0" font-size="7" class="h" fill="#a44" >1</text>
<text x="454.0" y="779.0" font-size="4" class="h" >x</text>
<polygon points="372.9,784.0 449.5,784.0 449.5,796.3 475.3,796.3 475.3,782.1 493.2,782.1 493.2,796.3 522.0,796.3 522.0,785.1 508.2,785.1 508.2,759.7 522.0,759.7 522.0,744.8 508.2,744.8 508.2,713.0 559.7,713.0 559.7,749.6 572.4,749.6 572.4,762.7 596.7,762.7 596.7,775.8 572.4,775.8 572.4,796.3 583.6,796.3 583.6,845.3 587.4,845.6 616.5,923.3 616.5,925.2 630.4,925.2 630.4,938.3 643.0,938.3 643.0,1078.4 629.6,1078.4 629.6,1091.5 578.4,1091.5 578.4,925.2 579.2,923.3 549.3,848.0 549.3,860.6 462.2,860.6 462.2,870.3 372.9,870.3" fill="#f1e5a8" stroke="none" stroke-width="1" />
<polyline points="372.9,857.0 372.9,784.0 449.5,784.0 449.5,857.0 372.9,857.0" fill="none" stroke="#423e38" stroke-width="1" />
<polyline points="372.9,857.0 372.9,870.3 462.2,870.3 462.2,860.6 549.3,860.6 549.3,848.0" fill="none" stroke="#423e38" stroke-width="1" stroke-dasharray="4 2.5" />
<polygon points="371.8,874.0 395.0,874.0 395.0,898.0 371.8,898.0" fill="#f1e5a8" stroke="none" stroke-width="1" />
<polyline points="371.8,874.0 395.0,874.0 395.0,898.0 371.8,898.0 371.8,874.0" fill="none" stroke="#423e38" stroke-width="1" stroke-dasharray="4 2.5" />
<text x="380.0" y="882.0" font-size="7" class="h" >1</text>
<text x="381.0" y="896.0" font-size="4" class="h" >x</text>
<polyline points="449.5,796.3 475.3,796.3 475.3,782.1 493.2,782.1 493.2,796.3 522.0,796.3" fill="none" stroke="#423e38" stroke-width="1" />
<polyline points="583.6,796.3 572.4,796.3" fill="none" stroke="#423e38" stroke-width="1" />
<polyline points="449.5,833.7 474.5,833.7 474.5,844.9 556.0,844.9" fill="none" stroke="#423e38" stroke-width="1" />
<polyline points="449.5,812.5 474.5,812.5 474.5,796.3" fill="none" stroke="#423e38" stroke-width="1" stroke-dasharray="4 2.5" />
<polyline points="461.0,792.6 468.0,796.3" fill="none" stroke="#423e38" stroke-width="1" />
<line x1="556.0" y1="796.3" x2="556.0" y2="844.9" stroke="#423e38" stroke-width="1"/>
<polyline points="583.6,796.3 583.6,845.3" fill="none" stroke="#423e38" stroke-width="1" />
<polyline points="556.0,844.9 583.6,845.2" fill="none" stroke="#423e38" stroke-width="1" stroke-dasharray="4 2.5" />
<polygon points="426.0,789.3 442.5,789.3 442.5,796.5 426.0,796.5" fill="#262626" stroke="none" stroke-width="1" />
<text x="426.0" y="801.5" font-size="3.6" class="h" textLength="16.0" lengthAdjust="spacingAndGlyphs" >H<tspan font-size="2.9">EATER</tspan></text>
<text x="376.0" y="793.0" font-size="7" class="h" >2½BB</text>
<text x="378.0" y="826.0" font-size="5" class="h" transform="rotate(60.0 378.0 826.0)" >36'</text>
<circle cx="412.3" cy="823.8" r="3.6" fill="#f7f3d8" stroke="#423e38" stroke-width="0.8"/>
<text x="417.5" y="823.0" font-size="4.2" class="h" textLength="17.0" lengthAdjust="spacingAndGlyphs" >V.P. 50'</text>
<text x="417.5" y="828.0" font-size="4.2" class="h" textLength="17.0" lengthAdjust="spacingAndGlyphs" >2" H<tspan font-size="3.4">OSE</tspan></text>
<circle cx="376.5" cy="852.0" r="1.4" fill="none" stroke="#423e38" stroke-width="0.7"/>
<text x="375.0" y="868.5" font-size="8.5" class="h" >2</text>
<text x="364.0" y="829.5" font-size="7" class="h" >J.</text>
<text x="452.0" y="803.0" font-size="7" class="h" >2</text>
<circle cx="471.0" cy="800.5" r="1.4" fill="none" stroke="#423e38" stroke-width="0.7"/>
<text x="477.0" y="791.0" font-size="8" class="h" >2</text>
<circle cx="488.5" cy="788.5" r="1.4" fill="none" stroke="#423e38" stroke-width="0.7"/>
<text x="543.0" y="806.0" font-size="6" class="h" >3BB</text>
<text x="576.0" y="806.0" font-size="8" class="h" >2</text>
<circle cx="579.0" cy="842.0" r="1.4" fill="none" stroke="#423e38" stroke-width="0.7"/>
<text x="550.0" y="843.5" font-size="4" class="h" >x</text>
<text x="547.0" y="858.0" font-size="4" class="h" >x</text>
<polyline points="522.0,796.3 522.0,713.0 559.7,713.0 559.7,749.6 572.4,749.6 572.4,796.3" fill="none" stroke="#423e38" stroke-width="1" />
<polyline points="522.0,713.0 522.0,749.6" fill="none" stroke="#423e38" stroke-width="1" stroke-dasharray="4 2.5" />
<polyline points="522.0,713.0 508.2,713.0 508.2,744.8 522.0,744.8" fill="none" stroke="#423e38" stroke-width="1" />
<polyline points="522.0,759.7 508.2,759.7 508.2,785.1 522.0,785.1" fill="none" stroke="#423e38" stroke-width="1" />
<polygon points="527.6,749.6 542.5,749.6 542.5,764.6 527.6,764.6" fill="#f3b2c3" stroke="#a66" stroke-width="0.8" />
<text x="529.0" y="759.0" font-size="4.2" class="h" textLength="12.0" lengthAdjust="spacingAndGlyphs" fill="#a44" >O<tspan font-size="3.4">VEN</tspan></text>
<polyline points="572.4,762.7 596.7,762.7" fill="none" stroke="#423e38" stroke-width="1" stroke-dasharray="4 2.5" />
<polyline points="572.4,775.8 596.7,775.8" fill="none" stroke="#423e38" stroke-width="1" stroke-dasharray="4 2.5" />
<text x="529.0" y="777.0" font-size="6.5" class="h" textLength="33.0" lengthAdjust="spacing">K<tspan font-size="5.2">ITCHEN</tspan></text>
<text x="511.0" y="721.0" font-size="7" class="h" >1</text>
<text x="525.0" y="720.5" font-size="8" class="h" >2</text>
<text x="544.0" y="718.0" font-size="4" class="h" >x x</text>
<circle cx="555.0" cy="716.5" r="1.1" fill="#2a2a2a" stroke="none" stroke-width="0"/>
<circle cx="512.0" cy="741.0" r="1.4" fill="none" stroke="#423e38" stroke-width="0.7"/>
<text x="511.0" y="769.0" font-size="7" class="h" >1</text>
<circle cx="512.0" cy="781.5" r="1.4" fill="none" stroke="#423e38" stroke-width="0.7"/>
<text x="575.0" y="774.0" font-size="7" class="h" >1</text>
<polygon points="596.7,749.6 617.3,749.6 617.3,788.8 596.7,788.8" fill="#f1e5a8" stroke="#423e38" stroke-width="1" />
<text x="599.0" y="768.0" font-size="4.8" class="h" textLength="16.0" lengthAdjust="spacingAndGlyphs" >W<tspan font-size="3.8">OOD</tspan></text>
<text x="603.0" y="775.0" font-size="4.8" class="h" textLength="9.0" lengthAdjust="spacingAndGlyphs" >H<tspan font-size="3.8">O</tspan>.</text>
<text x="600.0" y="786.5" font-size="7" class="h" >1</text>
<text x="611.0" y="786.5" font-size="4" class="h" >x</text>
<polygon points="627.7,754.1 652.8,754.1 652.8,775.8 627.7,775.8" fill="#f1e5a8" stroke="#423e38" stroke-width="1" />
<text x="631.0" y="773.5" font-size="7" class="h" >1</text>
<text x="647.0" y="774.0" font-size="4" class="h" >x</text>
<polygon points="614.7,682.3 627.7,682.3 627.7,736.5 614.7,736.5" fill="#f1e5a8" stroke="#423e38" stroke-width="1" />
<text x="619.0" y="691.5" font-size="7" class="h" >1</text>
<text x="614.5" y="706.0" font-size="4.5" class="h" textLength="12.0" lengthAdjust="spacingAndGlyphs" >C<tspan font-size="3.6">OAL</tspan></text>
<text x="617.0" y="713.0" font-size="4.5" class="h" textLength="8.0" lengthAdjust="spacingAndGlyphs" >H<tspan font-size="3.6">O</tspan>.</text>
<text x="630.0" y="716.0" font-size="5.5" class="h" fill="#777" >H.</text>
<text x="620.0" y="735.0" font-size="4" class="h" >x</text>
<polygon points="787.5,770.0 819.9,770.0 819.9,793.0 824.0,799.0 824.0,811.0 819.9,816.0 819.9,849.8 787.5,849.8 787.5,816.0 782.0,811.0 782.0,799.0 787.5,793.0" fill="#f1e5a8" stroke="#423e38" stroke-width="1" />
<text x="793.0" y="789.0" font-size="4.8" class="h" textLength="18.0" lengthAdjust="spacingAndGlyphs" >S<tspan font-size="3.8">IDES</tspan></text>
<text x="787.0" y="796.5" font-size="4.4" class="h" textLength="32.0" lengthAdjust="spacingAndGlyphs" >P<tspan font-size="3.5">LASTERED</tspan></text>
<text x="789.0" y="824.0" font-size="6" class="h" textLength="30.0" lengthAdjust="spacingAndGlyphs" >C<tspan font-size="4.8">OTTAGE</tspan></text>
<text x="791.0" y="847.0" font-size="8" class="h" >2</text>
<circle cx="816.5" cy="846.5" r="1.4" fill="none" stroke="#423e38" stroke-width="0.7"/>
<text x="798.0" y="857.0" font-size="6" class="h" fill="#666" >G</text>
<polyline points="548.5,845.2 579.2,923.3" fill="none" stroke="#423e38" stroke-width="1" />
<polyline points="587.4,845.6 616.5,923.3" fill="none" stroke="#423e38" stroke-width="1" />
<polyline points="579.2,923.3 578.4,925.2 578.4,1091.5 629.6,1091.5 629.6,1078.4" fill="none" stroke="#423e38" stroke-width="1" stroke-dasharray="4 2.5" />
<polyline points="578.4,925.2 630.4,925.2 630.4,938.3" fill="none" stroke="#423e38" stroke-width="1" />
<polyline points="591.1,925.2 591.1,1078.4 643.0,1078.4 643.0,938.3 603.0,938.3" fill="none" stroke="#423e38" stroke-width="1" />
<polyline points="591.1,938.3 603.0,938.3" fill="none" stroke="#423e38" stroke-width="1" stroke-dasharray="4 2.5" />
<text x="581.0" y="853.0" font-size="8" class="h" >2</text>
<text x="566.0" y="887.0" font-size="6.5" class="h" textLength="33.0" lengthAdjust="spacingAndGlyphs" >O<tspan font-size="5.2">PEN</tspan> 1<tspan font-size="5.2">ST</tspan></text>
<circle cx="611.5" cy="918.0" r="1.4" fill="none" stroke="#423e38" stroke-width="0.7"/>
<text x="581.0" y="935.0" font-size="8" class="h" >2</text>
<text x="594.0" y="935.0" font-size="8" class="h" >2</text>
<circle cx="625.5" cy="931.0" r="1.4" fill="none" stroke="#423e38" stroke-width="0.7"/>
<circle cx="611.5" cy="999.0" r="3.6" fill="#f7f3d8" stroke="#423e38" stroke-width="0.8"/>
<text x="601.0" y="1008.0" font-size="4.2" class="h" textLength="24.0" lengthAdjust="spacingAndGlyphs" >V.P. 50'2"</text>
<text x="604.0" y="1013.0" font-size="4.2" class="h" textLength="12.0" lengthAdjust="spacingAndGlyphs" >H<tspan font-size="3.4">OSE</tspan>.</text>
<polygon points="629.6,995.0 638.2,995.0 638.2,1007.4 629.6,1007.4" fill="#262626" stroke="none" stroke-width="1" />
<text x="625.0" y="993.5" font-size="3.6" class="h" textLength="18.0" lengthAdjust="spacingAndGlyphs" >H<tspan font-size="2.9">EATER</tspan></text>
<text x="645.5" y="1016.5" font-size="7" class="h" >K</text>
<text x="593.0" y="1076.0" font-size="7.5" class="h" >3B</text>
<text x="612.0" y="1072.0" font-size="5.5" class="h" >45'</text>
<circle cx="639.0" cy="1075.0" r="1.4" fill="none" stroke="#423e38" stroke-width="0.7"/>
<text x="623.0" y="1090.5" font-size="3.8" class="h" >25'</text>
<text x="0.0" y="0.0" font-size="13" class="h" transform="translate(364.3 913.3) scale(0.800 1)" textLength="216.2" lengthAdjust="spacing" stroke="#333" stroke-width="0.3">T<tspan font-size="9.8">HE</tspan> C<tspan font-size="9.8">OURT</tspan> I<tspan font-size="9.8">NN</tspan> W<tspan font-size="9.8">INTER</tspan> H<tspan font-size="9.8">OTEL</tspan>.</text>
<text x="399.0" y="922.4" font-size="6.8" class="h" textLength="90.0" lengthAdjust="spacingAndGlyphs" >O<tspan font-size="5.4">PEN</tspan> D<tspan font-size="5.4">EC</tspan> 1<tspan font-size="5.4">ST</tspan> T<tspan font-size="5.4">O</tspan> M<tspan font-size="5.4">AY</tspan> 1<tspan font-size="5.4">ST</tspan></text>
<text x="365.4" y="929.8" font-size="7.2" class="h" textLength="171.0" lengthAdjust="spacingAndGlyphs" >C<tspan font-size="5.8">ONSTANT</tspan> W<tspan font-size="5.8">ATCHMAN</tspan> 2 N<tspan font-size="5.8">IGHT</tspan> W<tspan font-size="5.8">ATCHMEN</tspan> D<tspan font-size="5.8">URING</tspan></text>
<text x="367.0" y="937.3" font-size="7.2" class="h" textLength="171.0" lengthAdjust="spacingAndGlyphs" >S<tspan font-size="5.8">EASON</tspan>  N<tspan font-size="5.8">O</tspan> C<tspan font-size="5.8">LOCK</tspan>. H<tspan font-size="5.8">EAT</tspan>: S<tspan font-size="5.8">TEAM</tspan> - L<tspan font-size="5.8">IGHTS</tspan>: E<tspan font-size="5.8">LEC</tspan>. V.P'<tspan font-size="5.8">S</tspan></text>
<text x="367.0" y="944.7" font-size="7.2" class="h" textLength="96.0" lengthAdjust="spacingAndGlyphs" >&amp; H<tspan font-size="5.8">OSE</tspan> A<tspan font-size="5.8">S</tspan> S<tspan font-size="5.8">HOWN</tspan> C<tspan font-size="5.8">ITY</tspan> W<tspan font-size="5.8">ATER</tspan>.</text>
<text x="345.6" y="1164.4" font-size="14" class="n" textLength="158.5" lengthAdjust="spacingAndGlyphs" >Located 1¼ Miles E. of Court Ho.</text>
<line x1="349.0" y1="1167.3" x2="499.5" y2="1167.3" stroke="#423e38" stroke-width="1.2"/>
<line x1="526.8" y1="1125.5" x2="861.3" y2="1312.0" stroke="#423e38" stroke-width="1"/>
<line x1="639.0" y1="1125.5" x2="861.6" y2="1250.3" stroke="#423e38" stroke-width="1"/>
<text x="689.5" y="1189.5" font-size="12" class="w" transform="rotate(26.6 689.5 1189.5)" textLength="62.0" fill="#3a3a3a" lengthAdjust="spacing">ROAD</text>
<text x="625.0" y="1149.0" font-size="6" class="h" transform="rotate(-62.0 625.0 1149.0)" >40'</text>
<text x="854.0" y="1278.0" font-size="6" class="h" transform="rotate(-62.0 854.0 1278.0)" >40'</text>
<polygon points="554.9,1206.6 604.2,1206.6 604.2,1266.4 554.9,1266.4" fill="#f3b2c3" stroke="none" stroke-width="1" />
<polyline points="554.9,1206.6 604.2,1206.6 604.2,1266.4 554.9,1266.4 554.9,1206.6" fill="none" stroke="#555" stroke-width="1.2" stroke-dasharray="3 2" />
<text x="562.0" y="1239.0" font-size="6.5" class="h" textLength="28.0" lengthAdjust="spacingAndGlyphs" fill="#a55" >O<tspan font-size="5.2">FFICE</tspan>.</text>
<text x="558.0" y="1264.0" font-size="7" class="h" >1</text>
<text x="576.0" y="1262.5" font-size="4.5" class="h" >18'</text>
<circle cx="598.5" cy="1262.0" r="1.4" fill="none" stroke="#423e38" stroke-width="0.7"/>
<text x="574.0" y="1277.5" font-size="7" class="h" >B</text>
<text x="556.0" y="1229.0" font-size="3.5" class="h" >D</text>
<text x="597.0" y="1236.0" font-size="3.5" class="h" transform="rotate(90.0 597.0 1236.0)" >12</text>
<polygon points="204.8,1149.0 302.6,1149.0 302.6,1281.4 204.8,1281.4" fill="#f1e5a8" stroke="#423e38" stroke-width="1" />
<polygon points="233.9,1149.5 240.8,1149.5 240.8,1281.0 233.9,1281.0" fill="#f2bcc8" stroke="none" stroke-width="1" />
<polygon points="264.4,1149.5 272.7,1149.5 272.7,1281.0 264.4,1281.0" fill="#f2bcc8" stroke="none" stroke-width="1" />
<line x1="236.7" y1="1149.0" x2="236.7" y2="1281.4" stroke="#544" stroke-width="1.1"/>
<line x1="268.5" y1="1149.0" x2="268.5" y2="1281.4" stroke="#544" stroke-width="1.1"/>
<polygon points="302.6,1248.7 330.0,1248.7 330.0,1281.4 302.6,1281.4" fill="#f1e5a8" stroke="#423e38" stroke-width="1" />
<polygon points="299.0,1249.0 304.5,1249.0 304.5,1281.0 299.0,1281.0" fill="#f2bcc8" stroke="none" stroke-width="1" />
<line x1="302.6" y1="1248.7" x2="302.6" y2="1281.4" stroke="#544" stroke-width="1.1"/>
<text x="218.7" y="1210.8" font-size="8.5" class="h" textLength="79.0" lengthAdjust="spacingAndGlyphs" >C<tspan font-size="6.8">OTTON</tspan> W<tspan font-size="6.8">ARE</tspan> H<tspan font-size="6.8">O</tspan>'<tspan font-size="6.8">S</tspan></text>
<text x="234.5" y="1219.0" font-size="3.5" class="h" >14</text>
<text x="267.0" y="1219.0" font-size="3.5" class="h" >12</text>
<circle cx="236.7" cy="1259.2" r="7.4" fill="none" stroke="#222" stroke-width="2"/>
<text x="236.7" y="1261.5" font-size="6.4" class="p" text-anchor="middle" fill="#222" >A.S.</text>
<circle cx="302.6" cy="1264.8" r="7.4" fill="none" stroke="#222" stroke-width="2"/>
<text x="302.6" y="1267.1" font-size="6.4" class="p" text-anchor="middle" fill="#222" >A.S.</text>
<text x="208.0" y="1279.5" font-size="7" class="h" >1</text>
<text x="238.0" y="1279.5" font-size="7" class="h" >1</text>
<text x="248.0" y="1275.0" font-size="4.5" class="h" >14'</text>
<text x="271.0" y="1279.5" font-size="7" class="h" >1</text>
<text x="306.0" y="1279.5" font-size="7" class="h" >1</text>
<circle cx="232.5" cy="1279.0" r="1.3" fill="#2a2a2a" stroke="none" stroke-width="0"/>
<circle cx="264.3" cy="1279.0" r="1.3" fill="#2a2a2a" stroke="none" stroke-width="0"/>
<circle cx="297.8" cy="1279.0" r="1.3" fill="#2a2a2a" stroke="none" stroke-width="0"/>
<circle cx="326.0" cy="1279.0" r="1.3" fill="#2a2a2a" stroke="none" stroke-width="0"/>
<text x="233.0" y="1286.5" font-size="3" class="h" >I.D.</text>
<text x="265.0" y="1286.5" font-size="3" class="h" >I.D.</text>
<text x="299.0" y="1286.5" font-size="3" class="h" >I.D.</text>
<text x="312.0" y="1262.5" font-size="4.8" class="h" textLength="26.0" lengthAdjust="spacingAndGlyphs" >O<tspan font-size="3.8">PENING</tspan></text>
<text x="312.0" y="1269.5" font-size="4.8" class="h" textLength="18.0" lengthAdjust="spacingAndGlyphs" >R<tspan font-size="3.8">OOM</tspan></text>
<text x="251.0" y="1294.0" font-size="7" class="h" >A</text>
<line x1="67.8" y1="1336.7" x2="170.2" y2="1219.1" stroke="#423e38" stroke-width="0.9"/>
<circle cx="136.2" cy="1258.4" r="3.6" fill="#2a2a2a" stroke="none" stroke-width="0"/>
<line x1="108.0" y1="1268.9" x2="131.5" y2="1288.3" stroke="#423e38" stroke-width="0.9"/>
<path d="M163.5,1228.5 L151.8,1250 Q152.4,1244.5 150.6,1240.8 Q146.5,1240.6 141.5,1242.6 Q153,1237 163.5,1228.5 Z" fill="#222"/>
<polygon points="129.6,1335.9 163.5,1342.5 155.5,1379.0 122.3,1370.4" fill="#f1e5a8" stroke="none" stroke-width="1" />
<polygon points="130.9,1337.5 161.8,1343.6 157.6,1364.3 126.6,1357.3" fill="none" stroke="#a5acb3" stroke-width="2.8" />
<polyline points="126.0,1359.0 122.3,1370.4 155.5,1379.0 157.4,1366.0" fill="none" stroke="#423e38" stroke-width="1" stroke-dasharray="4 2.5" />
<text x="134.0" y="1347.0" font-size="4.6" class="h" transform="rotate(11.0 134.0 1347.0)" textLength="20.0" lengthAdjust="spacingAndGlyphs" >C<tspan font-size="3.7">OTTON</tspan></text>
<text x="133.0" y="1353.0" font-size="4.6" class="h" transform="rotate(11.0 133.0 1353.0)" textLength="17.0" lengthAdjust="spacingAndGlyphs" >W<tspan font-size="3.7">R</tspan>. H<tspan font-size="3.7">O</tspan></text>
<text x="131.0" y="1359.0" font-size="4.4" class="h" transform="rotate(11.0 131.0 1359.0)" textLength="24.0" lengthAdjust="spacingAndGlyphs" >(I<tspan font-size="3.5">R</tspan>.C<tspan font-size="3.5">L</tspan>.) 1½</text>
<text x="125.0" y="1370.0" font-size="6" class="h" transform="rotate(11.0 125.0 1370.0)" >1</text>
<text x="150.0" y="1377.0" font-size="4" class="h" transform="rotate(11.0 150.0 1377.0)" >D</text>
<text x="161.0" y="1362.0" font-size="7" class="h" transform="rotate(11.0 161.0 1362.0)" >E</text>
<polygon points="197.7,1390.4 207.6,1392.4 204.3,1409.6 194.4,1407.0" fill="#f1e5a8" stroke="#423e38" stroke-width="1" />
<text x="198.0" y="1398.5" font-size="3.6" class="h" transform="rotate(12.0 198.0 1398.5)" >O<tspan font-size="2.9">IL</tspan></text>
<text x="198.0" y="1403.0" font-size="3.6" class="h" transform="rotate(12.0 198.0 1403.0)" >H<tspan font-size="2.9">O</tspan>.</text>
<text x="196.5" y="1408.0" font-size="5" class="h" transform="rotate(12.0 196.5 1408.0)" >1</text>
<line x1="30.8" y1="1382.5" x2="226.0" y2="1461.4" stroke="#423e38" stroke-width="0.9"/>
<line x1="29.1" y1="1388.3" x2="223.5" y2="1468.0" stroke="#423e38" stroke-width="0.9"/>
<line x1="226.4" y1="1459.3" x2="221.6" y2="1472.6" stroke="#423e38" stroke-width="0.9"/>
<line x1="30.8" y1="1446.4" x2="294.5" y2="1627.4" stroke="#423e38" stroke-width="0.9"/>
<line x1="28.0" y1="1451.7" x2="292.0" y2="1631.0" stroke="#423e38" stroke-width="0.9"/>
<line x1="297.3" y1="1623.3" x2="286.6" y2="1638.9" stroke="#423e38" stroke-width="0.9"/>
<polyline points="210.6,1565.9 295.5,1624.2" fill="none" stroke="#423e38" stroke-width="0.9" stroke-dasharray="4 2.5" />
<polyline points="199.4,1571.6 286.8,1631.6" fill="none" stroke="#423e38" stroke-width="0.9" stroke-dasharray="4 2.5" />
<text x="219.0" y="1594.5" font-size="6" class="h" transform="rotate(33.5 219.0 1594.5)" textLength="60.0" lengthAdjust="spacing">C<tspan font-size="4.8">OAL</tspan> T<tspan font-size="4.8">RESTLE</tspan></text>
<polyline points="240.9,1589.0 240.9,1341.8 664.8,1343.6" fill="none" stroke="#8a8a88" stroke-width="2.8000000000000003" stroke-dasharray="4.5 2" />
<polyline points="240.9,1589.0 240.9,1341.8 664.8,1343.6" fill="none" stroke="#e6e6df" stroke-width="1.0" stroke-dasharray="4.5 2" />
<polyline points="666.6,1344.0 667.0,1532.6 543.0,1560.5" fill="none" stroke="#8a8a88" stroke-width="2.8000000000000003" stroke-dasharray="4.5 2" />
<polyline points="666.6,1344.0 667.0,1532.6 543.0,1560.5" fill="none" stroke="#e6e6df" stroke-width="1.0" stroke-dasharray="4.5 2" />
<polyline points="428.2,1562.5 535.0,1562.5" fill="none" stroke="#8a8a88" stroke-width="2.8000000000000003" stroke-dasharray="4.5 2" />
<polyline points="428.2,1562.5 535.0,1562.5" fill="none" stroke="#e6e6df" stroke-width="1.0" stroke-dasharray="4.5 2" />
<polyline points="303.0,1403.6 603.4,1403.8 603.4,1537.0" fill="none" stroke="#4a4646" stroke-width="1.2" stroke-dasharray="3.5 2" />
<polygon points="233.7,1425.1 244.7,1425.1 244.7,1436.1 233.7,1436.1" fill="#e9dc8f" stroke="#555" stroke-width="1" />
<circle cx="239.2" cy="1430.6" r="4.0" fill="#2a2a2a" stroke="none" stroke-width="0"/>
<text x="246.2" y="1429.6" font-size="4.5" class="h" >T.H.100'</text>
<text x="246.2" y="1434.6" font-size="3.8" class="h" >2½"H<tspan font-size="3.0">OSE</tspan></text>
<polygon points="385.9,1327.1 396.9,1327.1 396.9,1338.1 385.9,1338.1" fill="#e9dc8f" stroke="#555" stroke-width="1" />
<circle cx="391.4" cy="1332.6" r="4.0" fill="#2a2a2a" stroke="none" stroke-width="0"/>
<text x="398.4" y="1331.6" font-size="4.5" class="h" >T.H.100'</text>
<text x="398.4" y="1336.6" font-size="3.8" class="h" >2½"H<tspan font-size="3.0">OSE</tspan></text>
<polygon points="659.3,1338.4 670.3,1338.4 670.3,1349.4 659.3,1349.4" fill="#e9dc8f" stroke="#555" stroke-width="1" />
<circle cx="664.8" cy="1343.9" r="4.0" fill="#2a2a2a" stroke="none" stroke-width="0"/>
<text x="671.8" y="1342.9" font-size="4.5" class="h" >T.H.100'</text>
<text x="671.8" y="1347.9" font-size="3.8" class="h" >2½"H<tspan font-size="3.0">OSE</tspan></text>
<polygon points="660.9,1459.6 671.9,1459.6 671.9,1470.6 660.9,1470.6" fill="#e9dc8f" stroke="#555" stroke-width="1" />
<circle cx="666.4" cy="1465.1" r="4.0" fill="#2a2a2a" stroke="none" stroke-width="0"/>
<text x="673.4" y="1464.1" font-size="4.5" class="h" >T.H.100'</text>
<text x="673.4" y="1469.1" font-size="3.8" class="h" >2½"H<tspan font-size="3.0">OSE</tspan></text>
<polygon points="529.7,1557.0 540.7,1557.0 540.7,1568.0 529.7,1568.0" fill="#e9dc8f" stroke="#555" stroke-width="1" />
<circle cx="535.2" cy="1562.5" r="4.0" fill="#2a2a2a" stroke="none" stroke-width="0"/>
<text x="542.2" y="1561.5" font-size="4.5" class="h" ></text>
<text x="542.2" y="1566.5" font-size="3.8" class="h" ></text>
<text x="531.0" y="1549.0" font-size="4.5" class="h" >T.H.100'</text>
<text x="531.0" y="1554.0" font-size="3.8" class="h" >2½"H<tspan font-size="3.0">OSE</tspan></text>
<text x="0.0" y="0.0" font-size="16" class="h" transform="translate(359.8 1359.2) scale(0.720 1)" textLength="276.4" lengthAdjust="spacing" stroke="#333" stroke-width="0.3">H<tspan font-size="10.9">ERMITAGE</tspan> C<tspan font-size="10.9">OTTON</tspan> M<tspan font-size="10.9">ILLS</tspan>.</text>
<text x="360.5" y="1366.6" font-size="7.3" class="h" textLength="189.0" lengthAdjust="spacingAndGlyphs" >N<tspan font-size="5.8">IGHT</tspan> W<tspan font-size="5.8">ATCHMAN</tspan> M<tspan font-size="5.8">KT</tspan>: C<tspan font-size="5.8">LOCK</tspan> 10 S<tspan font-size="5.8">TATIONS</tspan>. R<tspan font-size="5.8">EPORTS</tspan> H<tspan font-size="5.8">OURLY</tspan></text>
<text x="360.5" y="1374.4" font-size="7.3" class="h" textLength="210.0" lengthAdjust="spacingAndGlyphs" >G<tspan font-size="5.8">RINNELL</tspan> A<tspan font-size="5.8">UTOMATIC</tspan> S<tspan font-size="5.8">PRINKLERS</tspan> T<tspan font-size="5.8">HRO</tspan>'<tspan font-size="5.8">OUT</tspan> S<tspan font-size="5.8">PACED</tspan> 6'<tspan font-size="5.8">X</tspan>10' W<tspan font-size="5.8">ET</tspan> S<tspan font-size="5.8">YSTEM</tspan>.</text>
<text x="360.5" y="1382.2" font-size="7.3" class="h" textLength="198.0" lengthAdjust="spacingAndGlyphs" >S<tspan font-size="5.8">UPPLIED</tspan> B<tspan font-size="5.8">Y</tspan> W.T<tspan font-size="5.8">ANK</tspan> C<tspan font-size="5.8">AP</tspan>'<tspan font-size="5.8">CY</tspan> 12,800 G<tspan font-size="5.8">ALS</tspan> E<tspan font-size="5.8">LEV</tspan>'<tspan font-size="5.8">D</tspan> 14'6"A<tspan font-size="5.8">BOVE</tspan> H<tspan font-size="5.8">IGHEST</tspan></text>
<text x="360.5" y="1390.0" font-size="7.3" class="h" textLength="198.0" lengthAdjust="spacingAndGlyphs" >L<tspan font-size="5.8">INE</tspan> <tspan font-size="5.8">OF</tspan> S<tspan font-size="5.8">PRINKLERS</tspan> A<tspan font-size="5.8">LSO</tspan> B<tspan font-size="5.8">UFFALO</tspan> D<tspan font-size="5.8">UPLEX</tspan> P<tspan font-size="5.8">UMP</tspan> S<tspan font-size="5.8">IZE</tspan> 16"<tspan font-size="5.8">X</tspan> 9"<tspan font-size="5.8">X</tspan> 12"</text>
<text x="360.5" y="1397.8" font-size="7.3" class="h" textLength="197.0" lengthAdjust="spacingAndGlyphs" >1000' 2½" H<tspan font-size="5.8">OSE</tspan> F<tspan font-size="5.8">IRE</tspan> P<tspan font-size="5.8">AILS</tspan> T<tspan font-size="5.8">HRO</tspan>'<tspan font-size="5.8">OUT</tspan> M<tspan font-size="5.8">ILL</tspan>. P<tspan font-size="5.8">UMP</tspan> R<tspan font-size="5.8">UN</tspan> B<tspan font-size="5.8">Y</tspan> W<tspan font-size="5.8">ATER</tspan> P<tspan font-size="5.8">OWER</tspan>.</text>
<polygon points="229.2,1467.8 303.0,1467.8 303.0,1505.3 229.2,1505.3" fill="#b5bbc0" stroke="none" stroke-width="1" />
<polygon points="232.7,1471.3 303.0,1471.3 303.0,1500.0 232.7,1500.0" fill="#f1e5a8" stroke="#777" stroke-width="0.8" />
<circle cx="245.2" cy="1483.7" r="7.4" fill="none" stroke="#222" stroke-width="2"/>
<text x="245.2" y="1486.0" font-size="6.4" class="p" text-anchor="middle" fill="#222" >A.S.</text>
<text x="255.0" y="1483.0" font-size="5.5" class="h" textLength="47.0" lengthAdjust="spacingAndGlyphs" >M<tspan font-size="4.4">ACHINE</tspan> S<tspan font-size="4.4">HOP</tspan></text>
<text x="263.0" y="1490.5" font-size="5" class="h" textLength="22.0" lengthAdjust="spacingAndGlyphs" >(I<tspan font-size="4.0">R</tspan>. C<tspan font-size="4.0">L</tspan>.)</text>
<circle cx="235.5" cy="1502.0" r="1.2" fill="none" stroke="#423e38" stroke-width="0.7"/>
<circle cx="303.0" cy="1496.0" r="1.2" fill="none" stroke="#423e38" stroke-width="0.7"/>
<polygon points="265.0,1533.3 301.0,1533.3 301.0,1537.2 265.0,1537.2" fill="#b5bbc0" stroke="none" stroke-width="1" />
<polygon points="262.0,1536.9 301.5,1536.9 301.5,1588.5 262.0,1588.5" fill="#f3b2c3" stroke="#4a3a3a" stroke-width="1" />
<polygon points="268.8,1543.2 275.0,1543.2 275.0,1575.6 268.8,1575.6" fill="#262626" stroke="none" stroke-width="1" />
<polygon points="278.5,1543.2 284.7,1543.2 284.7,1575.6 278.5,1575.6" fill="#262626" stroke="none" stroke-width="1" />
<polygon points="287.3,1543.2 293.5,1543.2 293.5,1575.6 287.3,1575.6" fill="#262626" stroke="none" stroke-width="1" />
<polygon points="266.5,1541.4 295.5,1541.4 295.5,1576.0 266.5,1576.0" fill="none" stroke="#555" stroke-width="0.8" />
<circle cx="272.0" cy="1579.5" r="2.6" fill="none" stroke="#555" stroke-width="0.8"/>
<circle cx="281.5" cy="1579.5" r="2.6" fill="none" stroke="#555" stroke-width="0.8"/>
<circle cx="291.0" cy="1579.5" r="2.6" fill="none" stroke="#555" stroke-width="0.8"/>
<text x="270.0" y="1587.0" font-size="3.8" class="h" textLength="17.0" lengthAdjust="spacingAndGlyphs" >C<tspan font-size="3.0">HY</tspan>. 60'</text>
<text x="279.0" y="1540.5" font-size="3.8" class="h" >30'</text>
<line x1="263.5" y1="1527.0" x2="263.5" y2="1535.0" stroke="#423e38" stroke-width="1"/>
<text x="261.0" y="1528.5" font-size="3.5" class="h" >45'</text>
<polygon points="262.0,1588.5 301.5,1588.5 301.5,1602.9 262.0,1602.9" fill="#f1e5a8" stroke="none" stroke-width="1" />
<polyline points="262.0,1588.5 262.0,1602.9 301.5,1602.9 301.5,1588.5" fill="none" stroke="#423e38" stroke-width="1" stroke-dasharray="4 2.5" />
<text x="265.0" y="1600.5" font-size="7" class="h" >1</text>
<circle cx="297.0" cy="1599.0" r="1.4" fill="none" stroke="#423e38" stroke-width="0.7"/>
<polygon points="303.0,1404.7 601.7,1405.6 601.7,1537.5 495.7,1537.5 495.7,1566.8 470.8,1566.8 470.8,1537.2 428.0,1537.0 428.0,1589.0 369.8,1589.0 369.8,1605.6 352.2,1605.6 352.2,1589.0 300.7,1589.0 300.7,1537.0 303.0,1537.0" fill="#f3b2c3" stroke="#4a3a3a" stroke-width="1" />
<line x1="360.5" y1="1404.7" x2="360.5" y2="1537.0" stroke="#423e38" stroke-width="1"/>
<line x1="376.4" y1="1404.7" x2="376.4" y2="1537.0" stroke="#423e38" stroke-width="1"/>
<line x1="303.0" y1="1537.0" x2="428.0" y2="1537.0" stroke="#423e38" stroke-width="1"/>
<polyline points="328.0,1537.0 328.0,1589.0" fill="none" stroke="#423e38" stroke-width="0.8" stroke-dasharray="4 2.5" />
<polyline points="358.0,1537.0 358.0,1589.0" fill="none" stroke="#423e38" stroke-width="0.8" stroke-dasharray="4 2.5" />
<line x1="470.8" y1="1537.4" x2="495.7" y2="1537.4" stroke="#423e38" stroke-width="1"/>
<line x1="352.2" y1="1589.0" x2="369.8" y2="1589.0" stroke="#423e38" stroke-width="1"/>
<polygon points="361.5,1443.5 375.5,1443.5 375.5,1462.0 361.5,1462.0" fill="none" stroke="#644" stroke-width="0.8" />
<polygon points="361.5,1470.0 375.5,1470.0 375.5,1492.0 361.5,1492.0" fill="none" stroke="#644" stroke-width="0.8" />
<polygon points="582.5,1409.0 600.0,1409.0 600.0,1432.0 582.5,1432.0" fill="none" stroke="#644" stroke-width="0.8" />
<circle cx="319.6" cy="1424.6" r="7.4" fill="none" stroke="#222" stroke-width="2"/>
<text x="319.6" y="1426.9" font-size="6.4" class="p" text-anchor="middle" fill="#222" >A.S.</text>
<circle cx="368.1" cy="1424.6" r="7.4" fill="none" stroke="#222" stroke-width="2"/>
<text x="368.1" y="1426.9" font-size="6.4" class="p" text-anchor="middle" fill="#222" >A.S.</text>
<circle cx="368.1" cy="1454.5" r="7.4" fill="none" stroke="#222" stroke-width="2"/>
<text x="368.1" y="1456.8" font-size="6.4" class="p" text-anchor="middle" fill="#222" >A.S.</text>
<circle cx="368.1" cy="1482.7" r="7.4" fill="none" stroke="#222" stroke-width="2"/>
<text x="368.1" y="1485.0" font-size="6.4" class="p" text-anchor="middle" fill="#222" >A.S.</text>
<circle cx="302.3" cy="1548.2" r="7.4" fill="none" stroke="#222" stroke-width="2"/>
<text x="302.3" y="1550.5" font-size="6.4" class="p" text-anchor="middle" fill="#222" >A.S.</text>
<circle cx="355.5" cy="1549.8" r="7.4" fill="none" stroke="#222" stroke-width="2"/>
<text x="355.5" y="1552.1" font-size="6.4" class="p" text-anchor="middle" fill="#222" >A.S.</text>
<circle cx="591.7" cy="1420.6" r="7.4" fill="none" stroke="#222" stroke-width="2"/>
<text x="591.7" y="1422.9" font-size="6.4" class="p" text-anchor="middle" fill="#222" >A.S.</text>
<circle cx="571.1" cy="1508.6" r="7.4" fill="none" stroke="#222" stroke-width="2"/>
<text x="571.1" y="1510.9" font-size="6.4" class="p" text-anchor="middle" fill="#222" >A.S.</text>
<circle cx="480.7" cy="1555.1" r="7.4" fill="none" stroke="#222" stroke-width="2"/>
<text x="480.7" y="1557.4" font-size="6.4" class="p" text-anchor="middle" fill="#222" >A.S.</text>
<text x="306.0" y="1413.0" font-size="8" class="h" >3</text>
<text x="332.0" y="1417.0" font-size="5" class="h" >45'</text>
<text x="363.0" y="1413.0" font-size="7" class="h" >3</text>
<text x="379.0" y="1413.0" font-size="8" class="h" >3</text>
<circle cx="356.0" cy="1408.5" r="1.4" fill="none" stroke="#423e38" stroke-width="0.7"/>
<circle cx="372.5" cy="1408.0" r="1.4" fill="none" stroke="#423e38" stroke-width="0.7"/>
<text x="487.0" y="1415.0" font-size="5" class="h" >45'</text>
<text x="318.5" y="1506.0" font-size="6.5" class="h" transform="rotate(-83.0 318.5 1506.0)" textLength="54.0" lengthAdjust="spacingAndGlyphs" >P<tspan font-size="5.2">ICKER</tspan> R<tspan font-size="5.2">M</tspan>. 1<tspan font-size="5.2">ST</tspan></text>
<text x="326.0" y="1510.0" font-size="5.6" class="h" transform="rotate(-83.0 326.0 1510.0)" textLength="49.0" lengthAdjust="spacingAndGlyphs" >W<tspan font-size="4.5">EAVE</tspan> R<tspan font-size="4.5">M</tspan>. 2<tspan font-size="4.5">D</tspan></text>
<text x="334.0" y="1517.5" font-size="5.8" class="h" transform="rotate(-83.0 334.0 1517.5)" textLength="81.0" lengthAdjust="spacingAndGlyphs" >S<tspan font-size="4.6">LASHER</tspan> &amp; C<tspan font-size="4.6">LOTH</tspan> R<tspan font-size="4.6">M</tspan>. 3<tspan font-size="4.6">D</tspan></text>
<text x="441.0" y="1462.0" font-size="7" class="h" textLength="66.0" lengthAdjust="spacing">C<tspan font-size="5.6">ARD</tspan> R<tspan font-size="5.6">OOM</tspan> 1<tspan font-size="5.6">ST</tspan></text>
<text x="439.0" y="1471.5" font-size="7" class="h" textLength="64.0" lengthAdjust="spacingAndGlyphs" >W<tspan font-size="5.6">EAVING</tspan> R<tspan font-size="5.6">OOM</tspan> 2<tspan font-size="5.6">D</tspan></text>
<text x="426.0" y="1481.0" font-size="7" class="h" textLength="131.0" lengthAdjust="spacingAndGlyphs" >S<tspan font-size="5.6">PINNING</tspan> S<tspan font-size="5.6">LASHER</tspan> &amp; C<tspan font-size="5.6">LOTH</tspan> R<tspan font-size="5.6">M</tspan> 3<tspan font-size="5.6">D</tspan></text>
<text x="348.0" y="1427.0" font-size="3.6" class="h" >A<tspan font-size="2.9">TT</tspan>.</text>
<text x="379.0" y="1427.0" font-size="3.6" class="h" >A<tspan font-size="2.9">TT</tspan>.</text>
<text x="348.0" y="1463.0" font-size="3.6" class="h" >A<tspan font-size="2.9">TT</tspan>.</text>
<text x="379.0" y="1463.0" font-size="3.6" class="h" >A<tspan font-size="2.9">TT</tspan>.</text>
<text x="362.0" y="1521.0" font-size="3.8" class="h" textLength="11.0" lengthAdjust="spacingAndGlyphs" >S<tspan font-size="3.0">TOVE</tspan></text>
<text x="362.0" y="1526.0" font-size="3.8" class="h" textLength="12.0" lengthAdjust="spacingAndGlyphs" >T<tspan font-size="3.0">OWER</tspan></text>
<text x="363.0" y="1535.5" font-size="6" class="h" >3</text>
<circle cx="372.5" cy="1533.0" r="1.4" fill="none" stroke="#423e38" stroke-width="0.7"/>
<text x="309.0" y="1566.0" font-size="5.5" class="h" textLength="12.0" lengthAdjust="spacingAndGlyphs" >F<tspan font-size="4.4">AN</tspan>.</text>
<text x="333.0" y="1563.5" font-size="5.5" class="h" textLength="13.0" lengthAdjust="spacingAndGlyphs" >E<tspan font-size="4.4">NG</tspan>.</text>
<text x="372.0" y="1566.0" font-size="6" class="h" textLength="41.0" lengthAdjust="spacing">W<tspan font-size="4.8">HEEL</tspan> H<tspan font-size="4.8">O</tspan>.</text>
<text x="362.0" y="1587.0" font-size="7" class="h" >1</text>
<text x="384.0" y="1585.0" font-size="4.5" class="h" >10'</text>
<circle cx="424.5" cy="1586.0" r="1.4" fill="none" stroke="#423e38" stroke-width="0.7"/>
<text x="303.0" y="1587.0" font-size="4.5" class="h" >18</text>
<text x="326.0" y="1583.0" font-size="4.5" class="h" transform="rotate(70.0 326.0 1583.0)" >18</text>
<text x="457.0" y="1545.5" font-size="7" class="h" >C.</text>
<text x="472.5" y="1542.5" font-size="3.5" class="h" textLength="12.0" lengthAdjust="spacingAndGlyphs" >W.T<tspan font-size="2.8">ANK</tspan></text>
<text x="472.5" y="1546.5" font-size="3.5" class="h" textLength="14.0" lengthAdjust="spacingAndGlyphs" ><tspan font-size="2.8">IN</tspan> T<tspan font-size="2.8">OWER</tspan></text>
<text x="490.0" y="1558.0" font-size="5" class="h" >5</text>
<polygon points="352.2,1589.0 369.8,1589.0 369.8,1605.6 352.2,1605.6" fill="#f3b2c3" stroke="#4a3a3a" stroke-width="1" />
<circle cx="361.0" cy="1597.5" r="3.2" fill="none" stroke="#444" stroke-width="0.8"/>
<circle cx="361.0" cy="1597.5" r="1.0" fill="#2a2a2a" stroke="none" stroke-width="0"/>
<text x="354.5" y="1611.5" font-size="4.2" class="h" textLength="13.0" lengthAdjust="spacingAndGlyphs" >P<tspan font-size="3.4">UMP</tspan></text>
<text x="354.0" y="1594.0" font-size="4" class="h" >1</text>
<text x="596.5" y="1417.0" font-size="3.6" class="h" >15</text>
<text x="596.5" y="1433.0" font-size="3.6" class="h" >15</text>
<text x="596.5" y="1455.0" font-size="3.6" class="h" >15</text>
<text x="596.5" y="1470.0" font-size="3.6" class="h" >15</text>
<text x="596.5" y="1492.0" font-size="3.6" class="h" >15</text>
<path d="M377.2,1589 C377,1628 375,1648 350,1666.5 C366,1660 385,1650 387,1589 Z" fill="#c9e5eb"/>
<path d="M377.2,1589 C377,1628 375,1648 350,1666.5" fill="none" stroke="#333" stroke-width="1.3"/>
<path d="M405.9,1589 C405,1630 404,1648 426,1671.5 L431.5,1671 C431,1650 414,1640 414.6,1589 Z" fill="#c9e5eb"/>
<path d="M414.6,1589 C414,1640 431,1650 431.5,1671" fill="none" stroke="#333" stroke-width="1.3"/>
<path d="M399,1590.5 C398.5,1603 402,1607.5 414,1607.5 L521,1607.5 M403.5,1590.5 C403,1600 406,1612.8 415,1613.2 L521,1613.2" fill="none" stroke="#555" stroke-width="0.9"/>
<text x="446.0" y="1609.5" font-size="5" class="h" textLength="26.0" lengthAdjust="spacing">F<tspan font-size="4.0">LUME</tspan>.</text>
<text x="425.5" y="1596.0" font-size="3.5" class="h" transform="rotate(70.0 425.5 1596.0)" >45'</text>
<path d="M523.9,1575.3 C536.5,1572.0 575.6,1562.6 599.3,1555.8 C622.9,1549.0 643.6,1541.2 665.8,1534.6 C687.9,1527.9 710.1,1521.2 732.2,1515.9 C754.4,1510.6 777.3,1507.0 798.7,1502.7 C820.1,1498.5 850.2,1492.5 860.5,1490.4 L860.5,1558.5 C850.2,1560.5 820.1,1565.7 798.7,1570.8 C777.3,1575.9 754.4,1582.1 732.2,1589.0 C710.1,1595.9 687.9,1604.3 665.8,1612.3 C643.6,1620.3 622.9,1629.7 599.3,1637.2 C575.6,1644.7 536.5,1653.8 523.9,1657.1 Z" fill="#c9e5eb"/>
<path d="M527.5,1582.5 C536.5,1579.2 575.6,1569.8 599.3,1563.0 C622.9,1556.2 643.6,1548.4 665.8,1541.8 C687.9,1535.2 710.1,1528.4 732.2,1523.1 C754.4,1517.8 777.3,1514.2 798.7,1509.9 C820.1,1505.7 850.2,1499.7 860.5,1497.6 L860.5,1551.3 C850.2,1553.3 820.1,1558.5 798.7,1563.6 C777.3,1568.7 754.4,1574.9 732.2,1581.8 C710.1,1588.7 687.9,1597.1 665.8,1605.1 C643.6,1613.1 622.9,1622.5 599.3,1630.0 C575.6,1637.5 536.5,1646.6 523.9,1649.9 Z" fill="#f9f9f3"/>
<path d="M523.9,1575.3 C536.5,1572.0 575.6,1562.6 599.3,1555.8 C622.9,1549.0 643.6,1541.2 665.8,1534.6 C687.9,1527.9 710.1,1521.2 732.2,1515.9 C754.4,1510.6 777.3,1507.0 798.7,1502.7 C820.1,1498.5 850.2,1492.5 860.5,1490.4" fill="none" stroke="#333" stroke-width="1.3"/>
<path d="M523.9,1657.1 C536.5,1653.8 575.6,1644.7 599.3,1637.2 C622.9,1629.7 643.6,1620.3 665.8,1612.3 C687.9,1604.3 710.1,1595.9 732.2,1589.0 C754.4,1582.1 777.3,1575.9 798.7,1570.8 C820.1,1565.7 850.2,1560.5 860.5,1558.5" fill="none" stroke="#333" stroke-width="1.3"/>
<polyline points="521.2,1657.5 521.2,1576.0 525.8,1575.2" fill="none" stroke="#423e38" stroke-width="0.9" />
<polyline points="525.8,1575.2 525.8,1657.0" fill="none" stroke="#423e38" stroke-width="0.9" />
<polyline points="521.2,1602.5 501.0,1602.5 501.0,1607.3" fill="none" stroke="#423e38" stroke-width="0.9" />
<polyline points="521.2,1629.5 506.0,1629.5 506.0,1633.0 521.2,1633.0" fill="none" stroke="#423e38" stroke-width="0.9" />
<text x="640.0" y="1586.5" font-size="12" class="h" transform="rotate(-17.0 640.0 1586.5)" textLength="103.0" fill="#444" lengthAdjust="spacing">Supply Race</text>
<polygon points="810.3,1380.7 828.6,1384.7 821.3,1422.3 802.0,1418.9" fill="#f1e5a8" stroke="#423e38" stroke-width="1" />
<text x="808.5" y="1401.0" font-size="5.5" class="h" transform="rotate(11.0 808.5 1401.0)" textLength="15.0" lengthAdjust="spacingAndGlyphs" >S<tspan font-size="4.4">HED</tspan></text>
<text x="811.0" y="1388.0" font-size="6" class="h" transform="rotate(11.0 811.0 1388.0)" >1</text>
<text x="822.0" y="1389.0" font-size="4" class="h" >x</text>
<text x="808.0" y="1430.0" font-size="6.5" class="h" >D.</text>
<polygon points="909.4,1037.1 1109.0,1037.1 1109.0,1171.5 909.4,1171.5" fill="#f1e5a8" stroke="#423e38" stroke-width="1" />
<polygon points="971.3,1037.6 979.4,1037.6 979.4,1171.0 971.3,1171.0" fill="#f2bcc8" stroke="none" stroke-width="1" />
<polygon points="1038.1,1037.6 1046.2,1037.6 1046.2,1171.0 1038.1,1171.0" fill="#f2bcc8" stroke="none" stroke-width="1" />
<line x1="975.8" y1="1037.1" x2="975.8" y2="1171.5" stroke="#544" stroke-width="1.1"/>
<line x1="1042.6" y1="1037.1" x2="1042.6" y2="1171.5" stroke="#544" stroke-width="1.1"/>
<polygon points="1109.0,1103.9 1175.8,1103.9 1175.8,1171.5 1109.0,1171.5" fill="#f1e5a8" stroke="#423e38" stroke-width="1" />
<polygon points="1104.9,1104.3 1113.0,1104.3 1113.0,1171.0 1104.9,1171.0" fill="#f2bcc8" stroke="none" stroke-width="1" />
<line x1="1109.0" y1="1103.9" x2="1109.0" y2="1171.5" stroke="#544" stroke-width="1.1"/>
<polyline points="1161.6,1103.9 1161.6,1171.5" fill="none" stroke="#423e38" stroke-width="0.8" stroke-dasharray="4 2.5" />
<text x="955.0" y="1094.0" font-size="9.5" class="h" textLength="126.0" lengthAdjust="spacing">C<tspan font-size="7.6">OTTON</tspan> W<tspan font-size="7.6">ARE</tspan> H<tspan font-size="7.6">O</tspan>'<tspan font-size="7.6">S</tspan></text>
<text x="934.0" y="1113.0" font-size="7" class="h" textLength="15.0" lengthAdjust="spacingAndGlyphs" >N<tspan font-size="5.6">O</tspan>.3</text>
<text x="1003.0" y="1113.0" font-size="7" class="h" textLength="16.0" lengthAdjust="spacingAndGlyphs" >N<tspan font-size="5.6">O</tspan>.2</text>
<text x="1064.0" y="1113.0" font-size="7" class="h" textLength="17.0" lengthAdjust="spacingAndGlyphs" >N<tspan font-size="5.6">O</tspan>.1.</text>
<circle cx="939.8" cy="1126.2" r="7.4" fill="none" stroke="#222" stroke-width="2"/>
<text x="939.8" y="1128.5" font-size="6.4" class="p" text-anchor="middle" fill="#222" >A.S.</text>
<circle cx="1043.4" cy="1133.8" r="7.4" fill="none" stroke="#222" stroke-width="2"/>
<text x="1043.4" y="1136.1" font-size="6.4" class="p" text-anchor="middle" fill="#222" >A.S.</text>
<circle cx="1144.6" cy="1118.9" r="7.4" fill="none" stroke="#222" stroke-width="2"/>
<text x="1144.6" y="1121.2" font-size="6.4" class="p" text-anchor="middle" fill="#222" >A.S.</text>
<text x="912.0" y="1169.0" font-size="7" class="h" >1</text>
<text x="979.0" y="1169.0" font-size="7" class="h" >1</text>
<text x="1046.0" y="1169.0" font-size="7" class="h" >1</text>
<text x="1113.0" y="1169.0" font-size="7" class="h" >1</text>
<text x="940.0" y="1163.0" font-size="4.5" class="h" >15'</text>
<text x="1008.0" y="1163.0" font-size="4.5" class="h" >15'</text>
<text x="1074.0" y="1163.0" font-size="4.5" class="h" >15'</text>
<text x="1136.0" y="1163.0" font-size="4.5" class="h" >15'</text>
<circle cx="971.5" cy="1168.5" r="1.4" fill="#2a2a2a" stroke="none" stroke-width="0"/>
<circle cx="1039.0" cy="1168.5" r="1.4" fill="#2a2a2a" stroke="none" stroke-width="0"/>
<circle cx="1106.5" cy="1168.5" r="1.4" fill="#2a2a2a" stroke="none" stroke-width="0"/>
<circle cx="1157.5" cy="1168.5" r="1.4" fill="#2a2a2a" stroke="none" stroke-width="0"/>
<circle cx="1172.0" cy="1168.5" r="1.4" fill="#2a2a2a" stroke="none" stroke-width="0"/>
<text x="976.0" y="1113.0" font-size="3.5" class="h" transform="rotate(90.0 976.0 1113.0)" >14</text>
<text x="1043.0" y="1113.0" font-size="3.5" class="h" transform="rotate(90.0 1043.0 1113.0)" >14</text>
<text x="1109.5" y="1135.0" font-size="3.5" class="h" transform="rotate(90.0 1109.5 1135.0)" >14</text>
<text x="1165.0" y="1168.5" font-size="6" class="h" >1</text>
<text x="1120.0" y="1138.0" font-size="5.5" class="h" textLength="31.0" lengthAdjust="spacingAndGlyphs" >O<tspan font-size="4.4">PENING</tspan></text>
<text x="1124.0" y="1146.0" font-size="5.5" class="h" textLength="22.0" lengthAdjust="spacingAndGlyphs" >R<tspan font-size="4.4">OOM</tspan>.</text>
<text x="1168.0" y="1156.0" font-size="4.8" class="h" transform="rotate(-88.0 1168.0 1156.0)" textLength="54.0" lengthAdjust="spacingAndGlyphs" >S<tspan font-size="3.8">TARCH</tspan> S<tspan font-size="3.8">TORAGE</tspan></text>
<polyline points="975.4,1171.5 975.4,1184.9 1175.8,1184.9 1175.8,1171.5" fill="none" stroke="#423e38" stroke-width="0.9" stroke-dasharray="4 2.5" />
<line x1="985.0" y1="1184.0" x2="997.0" y2="1172.6" stroke="#efe19a" stroke-width="4.2"/>
<line x1="1059.0" y1="1184.0" x2="1068.0" y2="1172.6" stroke="#efe19a" stroke-width="4.2"/>
<line x1="1128.0" y1="1184.0" x2="1142.0" y2="1172.6" stroke="#efe19a" stroke-width="4.2"/>
<text x="1050.0" y="1181.5" font-size="5" class="h" textLength="46.0" lengthAdjust="spacing">P<tspan font-size="4.0">LATFORM</tspan>.</text>
<text x="1017.5" y="1192.5" font-size="7" class="h" >J.</text>
<text x="968.0" y="1183.0" font-size="3.2" class="h" >40'</text>
<text x="1036.0" y="1183.0" font-size="3.2" class="h" >I.D.</text>
<text x="1104.0" y="1183.0" font-size="3.2" class="h" >I.D.</text>
<line x1="1204.1" y1="993.4" x2="1204.1" y2="1166.6" stroke="#423e38" stroke-width="0.9"/>
<circle cx="1204.1" cy="1053.3" r="3.6" fill="#2a2a2a" stroke="none" stroke-width="0"/>
<line x1="1188.7" y1="1079.2" x2="1217.5" y2="1079.2" stroke="#423e38" stroke-width="0.9"/>
<path d="M1204.1,1011 L1210.8,1035.8 Q1207,1030 1204.1,1029.5 Q1201,1030 1197.4,1035.8 Z" fill="#222"/>
<polygon points="1291.2,1004.6 1319.3,1011.9 1325.5,991.1 1353.5,999.9 1336.9,1054.9 1360.8,1061.7 1353.5,1087.6 1328.1,1079.8 1273.6,1063.2 1253.4,1057.0 1261.1,1031.6 1280.9,1037.3" fill="#f1e5a8" stroke="none" stroke-width="1" />
<polyline points="1328.1,1079.8 1353.5,1087.6 1360.8,1061.7 1336.9,1054.9 1353.5,999.9 1325.5,991.1" fill="none" stroke="#423e38" stroke-width="1" />
<polyline points="1319.3,1011.9 1291.2,1004.6 1280.9,1037.3 1261.1,1031.6 1253.4,1057.0 1273.6,1063.2" fill="none" stroke="#423e38" stroke-width="1" />
<polyline points="1325.5,991.1 1319.3,1011.9" fill="none" stroke="#423e38" stroke-width="0.9" stroke-dasharray="4 2.5" />
<polyline points="1332.3,992.6 1327.1,1015.0" fill="none" stroke="#423e38" stroke-width="0.9" />
<polyline points="1319.3,1011.9 1333.8,1016.5" fill="none" stroke="#423e38" stroke-width="0.9" />
<polyline points="1333.8,1016.5 1346.8,1020.7" fill="none" stroke="#423e38" stroke-width="0.9" stroke-dasharray="4 2.5" />
<polyline points="1276.2,1051.8 1273.6,1063.2 1328.1,1079.8" fill="none" stroke="#423e38" stroke-width="0.9" stroke-dasharray="4 2.5" />
<polyline points="1280.9,1037.3 1276.7,1057.0 1329.7,1072.6" fill="none" stroke="#423e38" stroke-width="0.9" />
<polyline points="1331.2,1065.3 1328.1,1079.8" fill="none" stroke="#423e38" stroke-width="0.9" />
<text x="1305.0" y="1048.0" font-size="7" class="h" font-weight="bold">D</text>
<text x="1256.0" y="1057.0" font-size="6" class="h" >1</text>
<text x="1279.5" y="1055.0" font-size="5" class="h" >B</text>
<text x="1331.5" y="1079.0" font-size="6" class="h" >1</text>
<text x="1333.0" y="1002.0" font-size="6" class="h" >1</text>
<text x="1293.0" y="1080.0" font-size="5.5" class="h" fill="#777" >A.</text>
<text x="1347.0" y="1003.5" font-size="4" class="h" >x</text>
<text x="1269.0" y="1059.5" font-size="4" class="h" >x</text>
<text x="1326.0" y="1070.0" font-size="4" class="h" >x</text>
<text x="1349.0" y="1085.0" font-size="4" class="h" >x</text>
<polyline points="1157.6,959.0 1157.6,1238.0" fill="none" stroke="#8a8a88" stroke-width="2.8000000000000003" stroke-dasharray="4.5 2" />
<polyline points="1157.6,959.0 1157.6,1238.0" fill="none" stroke="#e6e6df" stroke-width="1.0" stroke-dasharray="4.5 2" />
<text x="1152.0" y="1075.0" font-size="7" class="h" transform="rotate(-88.0 1152.0 1075.0)" textLength="49.0" lengthAdjust="spacing">6"W.P<tspan font-size="5.6">IPE</tspan></text>
<polyline points="1303.3,1262.6 1281.0,1238.3 886.5,1238.3 885.3,1472.3 1226.4,1472.3 1303.3,1396.6" fill="none" stroke="#8a8a88" stroke-width="2.8000000000000003" stroke-dasharray="4.5 2" />
<polyline points="1303.3,1262.6 1281.0,1238.3 886.5,1238.3 885.3,1472.3 1226.4,1472.3 1303.3,1396.6" fill="none" stroke="#e6e6df" stroke-width="1.0" stroke-dasharray="4.5 2" />
<polyline points="1064.5,1437.0 1064.5,1472.0" fill="none" stroke="#8a8a88" stroke-width="2.8000000000000003" stroke-dasharray="4.5 2" />
<polyline points="1064.5,1437.0 1064.5,1472.0" fill="none" stroke="#e6e6df" stroke-width="1.0" stroke-dasharray="4.5 2" />
<polygon points="1152.1,946.5 1163.1,946.5 1163.1,957.5 1152.1,957.5" fill="#e9dc8f" stroke="#555" stroke-width="1" />
<circle cx="1157.6" cy="952.0" r="4.0" fill="#2a2a2a" stroke="none" stroke-width="0"/>
<text x="1164.6" y="951.0" font-size="4.5" class="h" >T.H.150'</text>
<text x="1164.6" y="956.0" font-size="3.8" class="h" >2½"H<tspan font-size="3.0">OSE</tspan></text>
<polygon points="1168.3,1224.3 1179.3,1224.3 1179.3,1235.3 1168.3,1235.3" fill="#e9dc8f" stroke="#555" stroke-width="1" />
<circle cx="1173.8" cy="1229.8" r="4.0" fill="#2a2a2a" stroke="none" stroke-width="0"/>
<text x="1180.8" y="1228.8" font-size="4.5" class="h" >T.H.150</text>
<text x="1180.8" y="1233.8" font-size="3.8" class="h" >2½"H<tspan font-size="3.0">OSE</tspan></text>
<polygon points="915.2,1250.6 926.2,1250.6 926.2,1261.6 915.2,1261.6" fill="#e9dc8f" stroke="#555" stroke-width="1" />
<circle cx="920.7" cy="1256.1" r="4.0" fill="#2a2a2a" stroke="none" stroke-width="0"/>
<text x="927.7" y="1255.1" font-size="4.5" class="h" >T.H.150'</text>
<text x="927.7" y="1260.1" font-size="3.8" class="h" >2½"H<tspan font-size="3.0">OSE</tspan></text>
<polygon points="1303.1,1386.2 1314.1,1386.2 1314.1,1397.2 1303.1,1397.2" fill="#e9dc8f" stroke="#555" stroke-width="1" />
<circle cx="1308.6" cy="1391.7" r="4.0" fill="#2a2a2a" stroke="none" stroke-width="0"/>
<text x="1315.6" y="1390.7" font-size="4.5" class="h" >T.H.150'</text>
<text x="1315.6" y="1395.7" font-size="3.8" class="h" >2½"H<tspan font-size="3.0">OSE</tspan></text>
<circle cx="1015.0" cy="1465.4" r="4.3" fill="#2a2a2a" stroke="none" stroke-width="0"/>
<text x="1021.0" y="1467.5" font-size="5" class="h" >T.H.</text>
<text x="1041.0" y="1235.5" font-size="8" class="h" textLength="37.0" lengthAdjust="spacingAndGlyphs" >8"W.P<tspan font-size="6.4">IPE</tspan>.</text>
<text x="944.0" y="1470.0" font-size="7.5" class="h" textLength="34.0" lengthAdjust="spacingAndGlyphs" >8"W.P<tspan font-size="6.0">IPE</tspan>.</text>
<text x="1076.0" y="1470.0" font-size="7.5" class="h" textLength="33.0" lengthAdjust="spacingAndGlyphs" >6"W.P<tspan font-size="6.0">IPE</tspan>.</text>
<path d="M873,1233 C893,1235 905,1242 935,1246.3 L1416,1246.3 M873,1238 C890,1240 902,1251.6 1010,1251.6 L1416,1251.6" fill="none" stroke="#666" stroke-width="0.9"/>
<polyline points="1078.6,1269.0 1078.6,1254.5 1167.0,1254.5 1167.0,1298.0" fill="none" stroke="#423e38" stroke-width="1" stroke-dasharray="4 2.5" />
<polyline points="1078.6,1268.9 1095.4,1268.9 1095.4,1298.0" fill="none" stroke="#423e38" stroke-width="1" stroke-dasharray="4 2.5" />
<polyline points="1111.0,1298.0 1111.0,1268.9 1151.7,1268.9 1151.7,1298.0" fill="none" stroke="#423e38" stroke-width="1" stroke-dasharray="4 2.5" />
<line x1="1087.8" y1="1265.9" x2="1103.0" y2="1254.9" stroke="#efe094" stroke-width="4.2"/>
<line x1="1135.7" y1="1268.2" x2="1150.9" y2="1254.9" stroke="#efe094" stroke-width="4.2"/>
<line x1="1096.1" y1="1294.8" x2="1109.8" y2="1283.4" stroke="#efe094" stroke-width="4.2"/>
<line x1="1152.5" y1="1294.8" x2="1165.4" y2="1281.9" stroke="#efe094" stroke-width="4.2"/>
<text x="1102.0" y="1263.5" font-size="5" class="h" textLength="40.0" lengthAdjust="spacing">P<tspan font-size="4.0">LATFORM</tspan>.</text>
<polygon points="924.8,1298.6 1047.0,1298.6 1047.0,1269.0 1078.6,1269.0 1078.6,1298.6 1209.0,1298.6 1209.0,1303.5 1220.3,1303.5 1220.3,1333.8 1209.0,1333.8 1209.0,1404.7 1082.7,1404.7 1082.7,1437.0 1048.3,1437.0 1048.3,1404.7 924.8,1404.7" fill="#f3b2c3" stroke="#4a3a3a" stroke-width="1" />
<polyline points="1138.5,1298.6 1138.5,1404.7" fill="none" stroke="#423e38" stroke-width="0.8" stroke-dasharray="4 2.5" />
<line x1="1209.0" y1="1321.5" x2="1221.0" y2="1321.5" stroke="#423e38" stroke-width="1"/>
<polyline points="924.8,1300.0 924.8,1404.7 1209.0,1404.7 1209.0,1334.0" fill="none" stroke="#555" stroke-width="1" stroke-dasharray="3 2" />
<polygon points="1221.5,1271.0 1255.5,1271.0 1255.5,1350.9 1221.5,1350.9" fill="#f3b2c3" stroke="#4a3a3a" stroke-width="1" />
<polygon points="1255.5,1265.8 1364.0,1265.8 1364.0,1354.9 1255.5,1354.9" fill="#f3b2c3" stroke="#4a3a3a" stroke-width="1" />
<line x1="1312.2" y1="1265.8" x2="1312.2" y2="1354.9" stroke="#423e38" stroke-width="1"/>
<path d="M1343.6,1282.0 L1331.6,1282.0 Q1322.0,1282.0 1322.0,1291.6 L1322.0,1291.6 Q1322.0,1301.2 1331.6,1301.2 L1343.6,1301.2 Z" fill="#222"/>
<path d="M1343.6,1280.0 L1331.6,1280.0 Q1320.0,1280.0 1320.0,1291.6 L1320.0,1291.6 Q1320.0,1303.2 1331.6,1303.2 L1343.6,1303.2" fill="none" stroke="#443" stroke-width="0.8"/>
<path d="M1343.6,1313.0 L1331.0,1313.0 Q1320.0,1313.0 1320.0,1324.0 L1320.0,1332.7 Q1320.0,1343.7 1331.0,1343.7 L1343.6,1343.7 Z" fill="#222"/>
<path d="M1343.6,1311.0 L1331.0,1311.0 Q1318.0,1311.0 1318.0,1324.0 L1318.0,1332.7 Q1318.0,1345.7 1331.0,1345.7 L1343.6,1345.7" fill="none" stroke="#443" stroke-width="0.8"/>
<line x1="1321.0" y1="1329.7" x2="1343.6" y2="1329.7" stroke="#e6aab8" stroke-width="0.9"/>
<circle cx="1061.2" cy="1284.5" r="7.4" fill="none" stroke="#222" stroke-width="2"/>
<text x="1061.2" y="1286.8" font-size="6.4" class="p" text-anchor="middle" fill="#222" >A.S.</text>
<circle cx="1104.1" cy="1360.2" r="7.4" fill="none" stroke="#222" stroke-width="2"/>
<text x="1104.1" y="1362.5" font-size="6.4" class="p" text-anchor="middle" fill="#222" >A.S.</text>
<circle cx="1063.6" cy="1422.1" r="7.4" fill="none" stroke="#222" stroke-width="2"/>
<text x="1063.6" y="1424.4" font-size="6.4" class="p" text-anchor="middle" fill="#222" >A.S.</text>
<circle cx="1274.2" cy="1282.4" r="7.4" fill="none" stroke="#222" stroke-width="2"/>
<text x="1274.2" y="1284.7" font-size="6.4" class="p" text-anchor="middle" fill="#222" >A.S.</text>
<circle cx="1352.7" cy="1294.6" r="7.4" fill="none" stroke="#222" stroke-width="2"/>
<text x="1352.7" y="1296.9" font-size="6.4" class="p" text-anchor="middle" fill="#222" >A.S.</text>
<polygon points="1364.0,1317.2 1397.8,1317.2 1397.8,1355.4 1364.0,1355.4" fill="#adb2b6" stroke="none" stroke-width="1" />
<polygon points="1364.0,1320.5 1394.2,1320.5 1394.2,1351.7 1364.0,1351.7" fill="#f1e5a8" stroke="#777" stroke-width="0.8" />
<text x="1367.5" y="1331.0" font-size="5" class="h" textLength="17.0" lengthAdjust="spacingAndGlyphs" fill="#a55" >W<tspan font-size="4.0">OOD</tspan></text>
<text x="1367.5" y="1338.5" font-size="5" class="h" textLength="27.0" lengthAdjust="spacingAndGlyphs" fill="#a55" >W<tspan font-size="4.0">ORKING</tspan></text>
<text x="1369.5" y="1346.0" font-size="5" class="h" textLength="20.0" lengthAdjust="spacingAndGlyphs" fill="#a55" >(I<tspan font-size="4.0">R</tspan>. C<tspan font-size="4.0">L</tspan>.)</text>
<text x="1391.0" y="1325.0" font-size="6" class="h" >1</text>
<text x="984.0" y="1335.0" font-size="7" class="h" textLength="79.0" lengthAdjust="spacing">W<tspan font-size="5.6">EAVING</tspan> 1<tspan font-size="5.6">ST</tspan> &amp; 2<tspan font-size="5.6">D</tspan></text>
<text x="985.0" y="1344.0" font-size="7" class="h" textLength="47.0" lengthAdjust="spacing">C<tspan font-size="5.6">ARDING</tspan> 3<tspan font-size="5.6">D</tspan></text>
<text x="986.5" y="1353.0" font-size="7" class="h" textLength="66.0" lengthAdjust="spacing">S<tspan font-size="5.6">PINNING</tspan> 4<tspan font-size="5.6">TH</tspan></text>
<text x="1144.0" y="1351.0" font-size="6.5" class="h" textLength="57.0" lengthAdjust="spacing">P<tspan font-size="5.2">ICKER</tspan> R<tspan font-size="5.2">OOM</tspan>.</text>
<text x="927.0" y="1403.0" font-size="9.5" class="h" >4</text>
<text x="1061.0" y="1394.0" font-size="4.5" class="h" >60'</text>
<circle cx="1204.0" cy="1399.0" r="1.4" fill="#2a2a2a" stroke="none" stroke-width="0"/>
<text x="1024.0" y="1415.0" font-size="7" class="h" >K.</text>
<text x="1050.5" y="1276.5" font-size="10" class="p" >E</text>
<text x="1056.0" y="1273.5" font-size="5" class="h" >4</text>
<circle cx="1075.5" cy="1272.0" r="1.2" fill="#2a2a2a" stroke="none" stroke-width="0"/>
<text x="1054.0" y="1410.0" font-size="3.6" class="h" textLength="17.0" lengthAdjust="spacingAndGlyphs" >T<tspan font-size="2.9">ANK</tspan> <tspan font-size="2.9">IN</tspan></text>
<text x="1056.0" y="1414.0" font-size="3.6" class="h" textLength="13.0" lengthAdjust="spacingAndGlyphs" >T<tspan font-size="2.9">OWER</tspan></text>
<text x="1051.0" y="1435.0" font-size="5" class="h" >5</text>
<text x="1066.0" y="1435.0" font-size="4" class="h" >85'</text>
<circle cx="1078.5" cy="1433.5" r="1.1" fill="none" stroke="#423e38" stroke-width="0.7"/>
<text x="1086.0" y="1427.5" font-size="4" class="h" textLength="19.0" lengthAdjust="spacingAndGlyphs" >100'2½"</text>
<text x="1087.0" y="1432.5" font-size="4" class="h" textLength="19.0" lengthAdjust="spacingAndGlyphs" >H<tspan font-size="3.2">OSE</tspan> A<tspan font-size="3.2">TT</tspan>.</text>
<text x="1225.0" y="1280.0" font-size="8.5" class="h" >2</text>
<text x="1236.0" y="1334.0" font-size="5" class="h" transform="rotate(-88.0 1236.0 1334.0)" textLength="58.0" lengthAdjust="spacingAndGlyphs" >M<tspan font-size="4.0">ACHINE</tspan> S<tspan font-size="4.0">HOP</tspan> 1<tspan font-size="4.0">ST</tspan></text>
<text x="1243.5" y="1334.0" font-size="5" class="h" transform="rotate(-88.0 1243.5 1334.0)" textLength="55.0" lengthAdjust="spacingAndGlyphs" >S<tspan font-size="4.0">TARCH</tspan> R<tspan font-size="4.0">OOM</tspan> 2<tspan font-size="4.0">D</tspan></text>
<circle cx="1226.5" cy="1347.0" r="1.4" fill="#2a2a2a" stroke="none" stroke-width="0"/>
<text x="1212.5" y="1311.0" font-size="6.5" class="h" >2</text>
<text x="1211.5" y="1331.0" font-size="6" class="h" >1</text>
<circle cx="1217.0" cy="1317.5" r="1.2" fill="#2a2a2a" stroke="none" stroke-width="0"/>
<circle cx="1217.0" cy="1328.5" r="1.2" fill="#2a2a2a" stroke="none" stroke-width="0"/>
<text x="1269.0" y="1330.0" font-size="5.5" class="h" textLength="13.0" lengthAdjust="spacingAndGlyphs" >E<tspan font-size="4.4">NG</tspan>.</text>
<text x="1257.5" y="1353.0" font-size="7" class="h" textLength="20.0" lengthAdjust="spacingAndGlyphs" >1B-2B</text>
<text x="1284.0" y="1347.0" font-size="4.5" class="h" >40'</text>
<text x="1317.0" y="1352.0" font-size="6.5" class="h" textLength="10.0" lengthAdjust="spacingAndGlyphs" >1-3</text>
<circle cx="1308.5" cy="1350.5" r="1.4" fill="#2a2a2a" stroke="none" stroke-width="0"/>
<circle cx="1360.0" cy="1350.5" r="1.4" fill="#2a2a2a" stroke="none" stroke-width="0"/>
<circle cx="1304.5" cy="1296.5" r="2.6" fill="none" stroke="#444" stroke-width="0.8"/>
<circle cx="1304.5" cy="1296.5" r="0.9" fill="#2a2a2a" stroke="none" stroke-width="0"/>
<text x="1300.5" y="1291.0" font-size="3.6" class="h" >F.P.</text>
<circle cx="1316.0" cy="1291.0" r="2.8" fill="#f7e9ec" stroke="#444" stroke-width="0.8"/>
<circle cx="1316.0" cy="1328.5" r="2.8" fill="#f7e9ec" stroke="#444" stroke-width="0.8"/>
<text x="1289.0" y="1421.5" font-size="7" class="h" >L.</text>
<text x="1211.0" y="1277.0" font-size="3.2" class="h" >40'</text>
<text x="1364.0" y="1266.0" font-size="3.2" class="h" >35'</text>
<text x="1215.0" y="1359.0" font-size="3.2" class="h" >42'</text>
<text x="1366.0" y="1359.0" font-size="3.2" class="h" >25'</text>
<text x="1357.0" y="1313.0" font-size="4" class="h" >20'</text>
<path d="M1255.5,1291 Q1260,1295.5 1255.5,1300" fill="none" stroke="#4a3a3a" stroke-width="0.9"/>
<text x="926.5" y="1358.0" font-size="3.6" class="h" transform="rotate(-90.0 926.5 1358.0)" >15  15  20</text>
<text x="1206.0" y="1367.0" font-size="3.6" class="h" transform="rotate(-90.0 1206.0 1367.0)" >20  15  15</text>
<polygon points="1389.3,1398.3 1413.8,1398.3 1413.8,1435.0 1389.3,1435.0" fill="#f3bfca" stroke="#6a5a5a" stroke-width="0.9" />
<text x="1392.0" y="1418.0" font-size="5" class="h" textLength="20.0" lengthAdjust="spacingAndGlyphs" fill="#a55" >O<tspan font-size="4.0">FFICE</tspan></text>
<text x="1391.0" y="1406.0" font-size="7" class="h" >1</text>
<circle cx="1392.5" cy="1432.0" r="1.3" fill="#2a2a2a" stroke="none" stroke-width="0"/>
<text x="1372.0" y="1400.5" font-size="3.2" class="h" >25'</text>
<text x="1374.0" y="1414.0" font-size="5.5" class="h" >M.</text>
<polygon points="1330.0,1405.0 1389.0,1405.0 1389.0,1441.0 1330.0,1441.0" fill="none" stroke="#8a8a8a" stroke-width="1.3" />
<line x1="1326.0" y1="1444.5" x2="1412.0" y2="1442.5" stroke="#aaa" stroke-width="2.2" stroke-dasharray="1.2 1.5"/>
<text x="1346.0" y="1415.5" font-size="7.5" class="p" textLength="15.0" lengthAdjust="spacingAndGlyphs" fill="#777" >Map</text>
<text x="1366.0" y="1415.0" font-size="6" class="p" textLength="21.0" lengthAdjust="spacingAndGlyphs" fill="#b9b9b9" >Division</text>
<text x="1335.0" y="1440.0" font-size="6.5" class="p" textLength="34.0" lengthAdjust="spacingAndGlyphs" fill="#999" >Library of</text>
<text x="1371.0" y="1440.0" font-size="5.5" class="p" textLength="24.0" lengthAdjust="spacingAndGlyphs" fill="#c4c4c4" >Congress</text>
<text x="0.0" y="0.0" font-size="15.5" class="h" transform="translate(987.5 1493.2) scale(0.780 1)" textLength="325.6" lengthAdjust="spacing" stroke="#333" stroke-width="0.3">P<tspan font-size="11.2">INE</tspan> C<tspan font-size="11.2">REEK</tspan> M'<tspan font-size="11.2">F</tspan>'<tspan font-size="11.2">G</tspan> C<tspan font-size="11.2">O</tspan> C<tspan font-size="11.2">OTTON</tspan> M<tspan font-size="11.2">ILL</tspan>.</text>
<text x="993.6" y="1505.2" font-size="7.2" class="h" textLength="245.0" lengthAdjust="spacingAndGlyphs" >N<tspan font-size="5.8">IGHT</tspan> W<tspan font-size="5.8">ATCHMAN</tspan>  H<tspan font-size="5.8">AHN</tspan> C<tspan font-size="5.8">LOCK</tspan>.  P<tspan font-size="5.8">OWER</tspan>: S<tspan font-size="5.8">TEAM</tspan> G<tspan font-size="5.8">ENERATING</tspan> E<tspan font-size="5.8">LECTRICITY</tspan> -</text>
<text x="993.6" y="1512.6" font-size="7.2" class="h" textLength="246.0" lengthAdjust="spacingAndGlyphs" >H<tspan font-size="5.8">EAT</tspan>: H<tspan font-size="5.8">OT</tspan> A<tspan font-size="5.8">IR</tspan> - L<tspan font-size="5.8">IGHTS</tspan>: E<tspan font-size="5.8">LEC</tspan> - F<tspan font-size="5.8">UEL</tspan>: C<tspan font-size="5.8">OAL</tspan>. G<tspan font-size="5.8">RINNELL</tspan> A<tspan font-size="5.8">UTOMATIC</tspan> S<tspan font-size="5.8">PRINKLERS</tspan></text>
<text x="993.6" y="1520.0" font-size="7.2" class="h" textLength="244.0" lengthAdjust="spacingAndGlyphs" >T<tspan font-size="5.8">HRO</tspan>'<tspan font-size="5.8">OUT</tspan> S<tspan font-size="5.8">UPPLIED</tspan> B<tspan font-size="5.8">Y</tspan> W.T<tspan font-size="5.8">ANK</tspan> C<tspan font-size="5.8">AP</tspan>'<tspan font-size="5.8">CY</tspan> 14,000 G<tspan font-size="5.8">ALS</tspan>. E<tspan font-size="5.8">LEV</tspan>'<tspan font-size="5.8">D</tspan> 15'A<tspan font-size="5.8">BOVE</tspan> H<tspan font-size="5.8">IGHEST</tspan></text>
<text x="993.6" y="1527.4" font-size="7.2" class="h" textLength="223.0" lengthAdjust="spacingAndGlyphs" >L<tspan font-size="5.8">INE</tspan> <tspan font-size="5.8">OF</tspan> S<tspan font-size="5.8">PRINKLERS</tspan>. A<tspan font-size="5.8">LSO</tspan> C<tspan font-size="5.8">ONNECTED</tspan> W<tspan font-size="5.8">ITH</tspan> K<tspan font-size="5.8">NOWLES</tspan> P<tspan font-size="5.8">UMP</tspan> 16"<tspan font-size="5.8">X</tspan>10"<tspan font-size="5.8">X</tspan>12"</text>
<text x="993.6" y="1534.8" font-size="7.2" class="h" textLength="243.0" lengthAdjust="spacingAndGlyphs" >5 O<tspan font-size="5.8">UTSIDE</tspan> T.H<tspan font-size="5.8">YD</tspan>'<tspan font-size="5.8">S</tspan> S<tspan font-size="5.8">UPPLIED</tspan> B<tspan font-size="5.8">Y</tspan> P<tspan font-size="5.8">UMP</tspan> &amp; T<tspan font-size="5.8">ANK</tspan>. 800'2½"H<tspan font-size="5.8">OSE</tspan> F<tspan font-size="5.8">IRE</tspan> P<tspan font-size="5.8">AILS</tspan> T<tspan font-size="5.8">HRO</tspan>'<tspan font-size="5.8">OUT</tspan>.</text>
<path d="M867.2,159 L872.4,159 L872.6,174 Z" fill="#2b2b2b"/>
<path d="M866.4,386 L871.6,386 L866.3,367 Z" fill="#2b2b2b"/>
<polyline points="874.6,13.0 874.4,184.0" fill="none" stroke="#8a8a88" stroke-width="0.9" />
<g transform="translate(869.4,265.3) rotate(-6)" stroke="#2e2e2e" fill="none" stroke-linecap="round">
<line x1="0" y1="-72" x2="0" y2="-20" stroke-width="1.1"/><line x1="0" y1="20" x2="0" y2="56" stroke-width="1.1"/>
<path d="M0,-96.5 L-2.4,-70 L0,-72 Z" fill="#f9f9f3" stroke-width="0.7"/><path d="M0,-96.5 L2.6,-69 L0,-72 Z" fill="#2e2e2e" stroke-width="0.7"/>
<path d="M0,-64 C-3,-68 -8,-70 -10,-66 C-11,-63.5 -8,-62.5 -7.5,-64.5 M0,-64 C3,-68 8,-71 10.5,-68 C11.5,-65.5 8.5,-64.5 8,-66.5 M0,-64 C-2,-66.5 -4.5,-67 -5.5,-65 M0,-64 C2,-66.5 4.5,-67.5 5.5,-66" stroke-width="1.1"/>
<circle cx="9.6" cy="-67.3" r="1.4" fill="#2e2e2e" stroke="none"/><circle cx="-9.3" cy="-65.5" r="1.1" fill="#2e2e2e" stroke="none"/>
<circle cx="0" cy="-60" r="1.3" fill="#2e2e2e" stroke="none"/>
<circle cx="0" cy="-52" r="1.3" fill="#2e2e2e" stroke="none"/>
<circle cx="0" cy="-36" r="1.3" fill="#2e2e2e" stroke="none"/>
<circle cx="0" cy="40" r="1.3" fill="#2e2e2e" stroke="none"/>
<circle cx="0" cy="52" r="1.3" fill="#2e2e2e" stroke="none"/>
<circle cx="0" cy="58" r="1.3" fill="#2e2e2e" stroke="none"/>
<path d="M-1.6,-57 L0,-54 L1.6,-57 Z M-1.4,-50 L0,-46 L1.4,-50 Z" fill="#2e2e2e" stroke="none"/>
<circle r="19.3" stroke-width="1.7" fill="#f9f9f3"/><circle r="16.4" stroke-width="0.8"/>
<path d="M15.4,-13.3 L28.3,-28.3 L13.3,-15.4" stroke-width="0.8"/>
<path d="M20.3,1.5 L38.0,-0.0 L20.3,-1.5" stroke-width="0.8"/>
<path d="M13.3,15.4 L28.3,28.3 L15.4,13.3" stroke-width="0.8"/>
<path d="M-15.4,13.3 L-28.3,28.3 L-13.3,15.4" stroke-width="0.8"/>
<path d="M-20.3,-1.5 L-38.0,0.0 L-20.3,1.5" stroke-width="0.8"/>
<path d="M-13.3,-15.4 L-28.3,-28.3 L-15.4,-13.3" stroke-width="0.8"/>
<line x1="2.7" y1="-20.3" x2="3.1" y2="-23.8" stroke-width="0.7"/>
<circle cx="3.3" cy="-25.4" r="0.8" fill="#2e2e2e" stroke="none"/>
<circle cx="0.0" cy="-22.0" r="0.6" fill="#2e2e2e" stroke="none"/>
<line x1="7.8" y1="-18.9" x2="9.2" y2="-22.2" stroke-width="0.7"/>
<circle cx="9.8" cy="-23.7" r="0.8" fill="#2e2e2e" stroke="none"/>
<circle cx="5.7" cy="-21.3" r="0.6" fill="#2e2e2e" stroke="none"/>
<line x1="12.5" y1="-16.3" x2="14.6" y2="-19.0" stroke-width="0.7"/>
<circle cx="15.6" cy="-20.3" r="0.8" fill="#2e2e2e" stroke="none"/>
<circle cx="11.0" cy="-19.1" r="0.6" fill="#2e2e2e" stroke="none"/>
<line x1="16.3" y1="-12.5" x2="19.0" y2="-14.6" stroke-width="0.7"/>
<circle cx="20.3" cy="-15.6" r="0.8" fill="#2e2e2e" stroke="none"/>
<circle cx="15.6" cy="-15.6" r="0.6" fill="#2e2e2e" stroke="none"/>
<line x1="18.9" y1="-7.8" x2="22.2" y2="-9.2" stroke-width="0.7"/>
<circle cx="23.7" cy="-9.8" r="0.8" fill="#2e2e2e" stroke="none"/>
<circle cx="19.1" cy="-11.0" r="0.6" fill="#2e2e2e" stroke="none"/>
<line x1="20.3" y1="-2.7" x2="23.8" y2="-3.1" stroke-width="0.7"/>
<circle cx="25.4" cy="-3.3" r="0.8" fill="#2e2e2e" stroke="none"/>
<circle cx="21.3" cy="-5.7" r="0.6" fill="#2e2e2e" stroke="none"/>
<line x1="20.3" y1="2.7" x2="23.8" y2="3.1" stroke-width="0.7"/>
<circle cx="25.4" cy="3.3" r="0.8" fill="#2e2e2e" stroke="none"/>
<circle cx="22.0" cy="-0.0" r="0.6" fill="#2e2e2e" stroke="none"/>
<line x1="18.9" y1="7.8" x2="22.2" y2="9.2" stroke-width="0.7"/>
<circle cx="23.7" cy="9.8" r="0.8" fill="#2e2e2e" stroke="none"/>
<circle cx="21.3" cy="5.7" r="0.6" fill="#2e2e2e" stroke="none"/>
<line x1="16.3" y1="12.5" x2="19.0" y2="14.6" stroke-width="0.7"/>
<circle cx="20.3" cy="15.6" r="0.8" fill="#2e2e2e" stroke="none"/>
<circle cx="19.1" cy="11.0" r="0.6" fill="#2e2e2e" stroke="none"/>
<line x1="12.5" y1="16.3" x2="14.6" y2="19.0" stroke-width="0.7"/>
<circle cx="15.6" cy="20.3" r="0.8" fill="#2e2e2e" stroke="none"/>
<circle cx="15.6" cy="15.6" r="0.6" fill="#2e2e2e" stroke="none"/>
<line x1="7.8" y1="18.9" x2="9.2" y2="22.2" stroke-width="0.7"/>
<circle cx="9.8" cy="23.7" r="0.8" fill="#2e2e2e" stroke="none"/>
<circle cx="11.0" cy="19.1" r="0.6" fill="#2e2e2e" stroke="none"/>
<line x1="2.7" y1="20.3" x2="3.1" y2="23.8" stroke-width="0.7"/>
<circle cx="3.3" cy="25.4" r="0.8" fill="#2e2e2e" stroke="none"/>
<circle cx="5.7" cy="21.3" r="0.6" fill="#2e2e2e" stroke="none"/>
<line x1="-2.7" y1="20.3" x2="-3.1" y2="23.8" stroke-width="0.7"/>
<circle cx="-3.3" cy="25.4" r="0.8" fill="#2e2e2e" stroke="none"/>
<circle cx="0.0" cy="22.0" r="0.6" fill="#2e2e2e" stroke="none"/>
<line x1="-7.8" y1="18.9" x2="-9.2" y2="22.2" stroke-width="0.7"/>
<circle cx="-9.8" cy="23.7" r="0.8" fill="#2e2e2e" stroke="none"/>
<circle cx="-5.7" cy="21.3" r="0.6" fill="#2e2e2e" stroke="none"/>
<line x1="-12.5" y1="16.3" x2="-14.6" y2="19.0" stroke-width="0.7"/>
<circle cx="-15.6" cy="20.3" r="0.8" fill="#2e2e2e" stroke="none"/>
<circle cx="-11.0" cy="19.1" r="0.6" fill="#2e2e2e" stroke="none"/>
<line x1="-16.3" y1="12.5" x2="-19.0" y2="14.6" stroke-width="0.7"/>
<circle cx="-20.3" cy="15.6" r="0.8" fill="#2e2e2e" stroke="none"/>
<circle cx="-15.6" cy="15.6" r="0.6" fill="#2e2e2e" stroke="none"/>
<line x1="-18.9" y1="7.8" x2="-22.2" y2="9.2" stroke-width="0.7"/>
<circle cx="-23.7" cy="9.8" r="0.8" fill="#2e2e2e" stroke="none"/>
<circle cx="-19.1" cy="11.0" r="0.6" fill="#2e2e2e" stroke="none"/>
<line x1="-20.3" y1="2.7" x2="-23.8" y2="3.1" stroke-width="0.7"/>
<circle cx="-25.4" cy="3.3" r="0.8" fill="#2e2e2e" stroke="none"/>
<circle cx="-21.3" cy="5.7" r="0.6" fill="#2e2e2e" stroke="none"/>
<line x1="-20.3" y1="-2.7" x2="-23.8" y2="-3.1" stroke-width="0.7"/>
<circle cx="-25.4" cy="-3.3" r="0.8" fill="#2e2e2e" stroke="none"/>
<circle cx="-22.0" cy="0.0" r="0.6" fill="#2e2e2e" stroke="none"/>
<line x1="-18.9" y1="-7.8" x2="-22.2" y2="-9.2" stroke-width="0.7"/>
<circle cx="-23.7" cy="-9.8" r="0.8" fill="#2e2e2e" stroke="none"/>
<circle cx="-21.3" cy="-5.7" r="0.6" fill="#2e2e2e" stroke="none"/>
<line x1="-16.3" y1="-12.5" x2="-19.0" y2="-14.6" stroke-width="0.7"/>
<circle cx="-20.3" cy="-15.6" r="0.8" fill="#2e2e2e" stroke="none"/>
<circle cx="-19.1" cy="-11.0" r="0.6" fill="#2e2e2e" stroke="none"/>
<line x1="-12.5" y1="-16.3" x2="-14.6" y2="-19.0" stroke-width="0.7"/>
<circle cx="-15.6" cy="-20.3" r="0.8" fill="#2e2e2e" stroke="none"/>
<circle cx="-15.6" cy="-15.6" r="0.6" fill="#2e2e2e" stroke="none"/>
<line x1="-7.8" y1="-18.9" x2="-9.2" y2="-22.2" stroke-width="0.7"/>
<circle cx="-9.8" cy="-23.7" r="0.8" fill="#2e2e2e" stroke="none"/>
<circle cx="-11.0" cy="-19.1" r="0.6" fill="#2e2e2e" stroke="none"/>
<line x1="-2.7" y1="-20.3" x2="-3.1" y2="-23.8" stroke-width="0.7"/>
<circle cx="-3.3" cy="-25.4" r="0.8" fill="#2e2e2e" stroke="none"/>
<circle cx="-5.7" cy="-21.3" r="0.6" fill="#2e2e2e" stroke="none"/>
<path d="M-0.3,58 L-2,66 L-1.4,124 Q-2.6,128.5 -5,131.5 Q-0.6,130 0.6,126.5 L0.8,66 Z" fill="#2e2e2e" stroke-width="0.6"/>
<path d="M0.8,66 L2.8,72 L5.6,124 Q7,128 9.6,129.6 Q4.6,130.4 2.4,127.5 L0.6,126.5" stroke-width="0.7" fill="#f9f9f3"/>
</g>
<g transform="translate(869.4,265.3) rotate(-6)">
<text x="0" y="13.5" font-size="41" text-anchor="middle" class="sr" textLength="14" lengthAdjust="spacingAndGlyphs">S</text>
<text x="0" y="9.5" font-size="28" text-anchor="middle" class="sr" textLength="27" lengthAdjust="spacingAndGlyphs">M</text>
<text x="-1" y="-99" font-size="6.5" text-anchor="middle" class="srb">N</text>
<text x="2" y="142" font-size="7" text-anchor="middle" class="srb">S</text>
<text x="41" y="2" font-size="6" class="srb">E.</text>
<text x="-46" y="2.5" font-size="6" class="srb">W</text>
</g>
<text x="829.3" y="1611.0" font-size="12.5" class="p" textLength="82.3" fill="#555" lengthAdjust="spacing">Scale of Feet.</text>
<polygon points="739.6,1625.8 1004.5,1625.8 1004.5,1633.6 739.6,1633.6" fill="#f9f9f3" stroke="#2b2b2b" stroke-width="0.9" />
<polygon points="739.6,1625.8 752.8,1625.8 752.8,1628.7 739.6,1628.7" fill="#2b2b2b" stroke="none" stroke-width="1" />
<polygon points="739.6,1630.7 752.8,1630.7 752.8,1633.6 739.6,1633.6" fill="#2b2b2b" stroke="none" stroke-width="1" />
<polygon points="752.8,1628.4 766.1,1628.4 766.1,1631.0 752.8,1631.0" fill="#2b2b2b" stroke="none" stroke-width="1" />
<polygon points="766.1,1625.8 779.3,1625.8 779.3,1628.7 766.1,1628.7" fill="#2b2b2b" stroke="none" stroke-width="1" />
<polygon points="766.1,1630.7 779.3,1630.7 779.3,1633.6 766.1,1633.6" fill="#2b2b2b" stroke="none" stroke-width="1" />
<polygon points="779.3,1628.4 792.6,1628.4 792.6,1631.0 779.3,1631.0" fill="#2b2b2b" stroke="none" stroke-width="1" />
<polygon points="792.6,1625.8 805.8,1625.8 805.8,1628.7 792.6,1628.7" fill="#2b2b2b" stroke="none" stroke-width="1" />
<polygon points="792.6,1630.7 805.8,1630.7 805.8,1633.6 792.6,1633.6" fill="#2b2b2b" stroke="none" stroke-width="1" />
<line x1="805.8" y1="1630.0" x2="871.7" y2="1630.0" stroke="#2b2b2b" stroke-width="2.8"/>
<polygon points="871.7,1625.8 938.5,1625.8 938.5,1633.6 871.7,1633.6" fill="#2b2b2b" stroke="none" stroke-width="1" />
<line x1="871.7" y1="1629.7" x2="938.5" y2="1629.7" stroke="#ededE6" stroke-width="2"/>
<line x1="938.5" y1="1630.0" x2="1004.5" y2="1630.0" stroke="#2b2b2b" stroke-width="2.8"/>
<text x="735.5" y="1618.5" font-size="5.5" class="p" fill="#555" >50</text>
<text x="749.5" y="1622.0" font-size="4.5" class="p" fill="#555" >40</text>
<text x="762.9" y="1622.0" font-size="4.5" class="p" fill="#555" >30</text>
<text x="776.3" y="1622.0" font-size="4.5" class="p" fill="#555" >20</text>
<text x="789.7" y="1622.0" font-size="4.5" class="p" fill="#555" >10</text>
<text x="803.0" y="1618.0" font-size="5.5" class="p" fill="#555" >0</text>
<text x="866.5" y="1620.5" font-size="5.5" class="p" fill="#555" >50</text>
<text x="931.5" y="1620.0" font-size="5.5" class="p" fill="#555" >100</text>
<text x="997.0" y="1620.5" font-size="5.5" class="p" fill="#555" >150</text>
</svg>
</body></html>
